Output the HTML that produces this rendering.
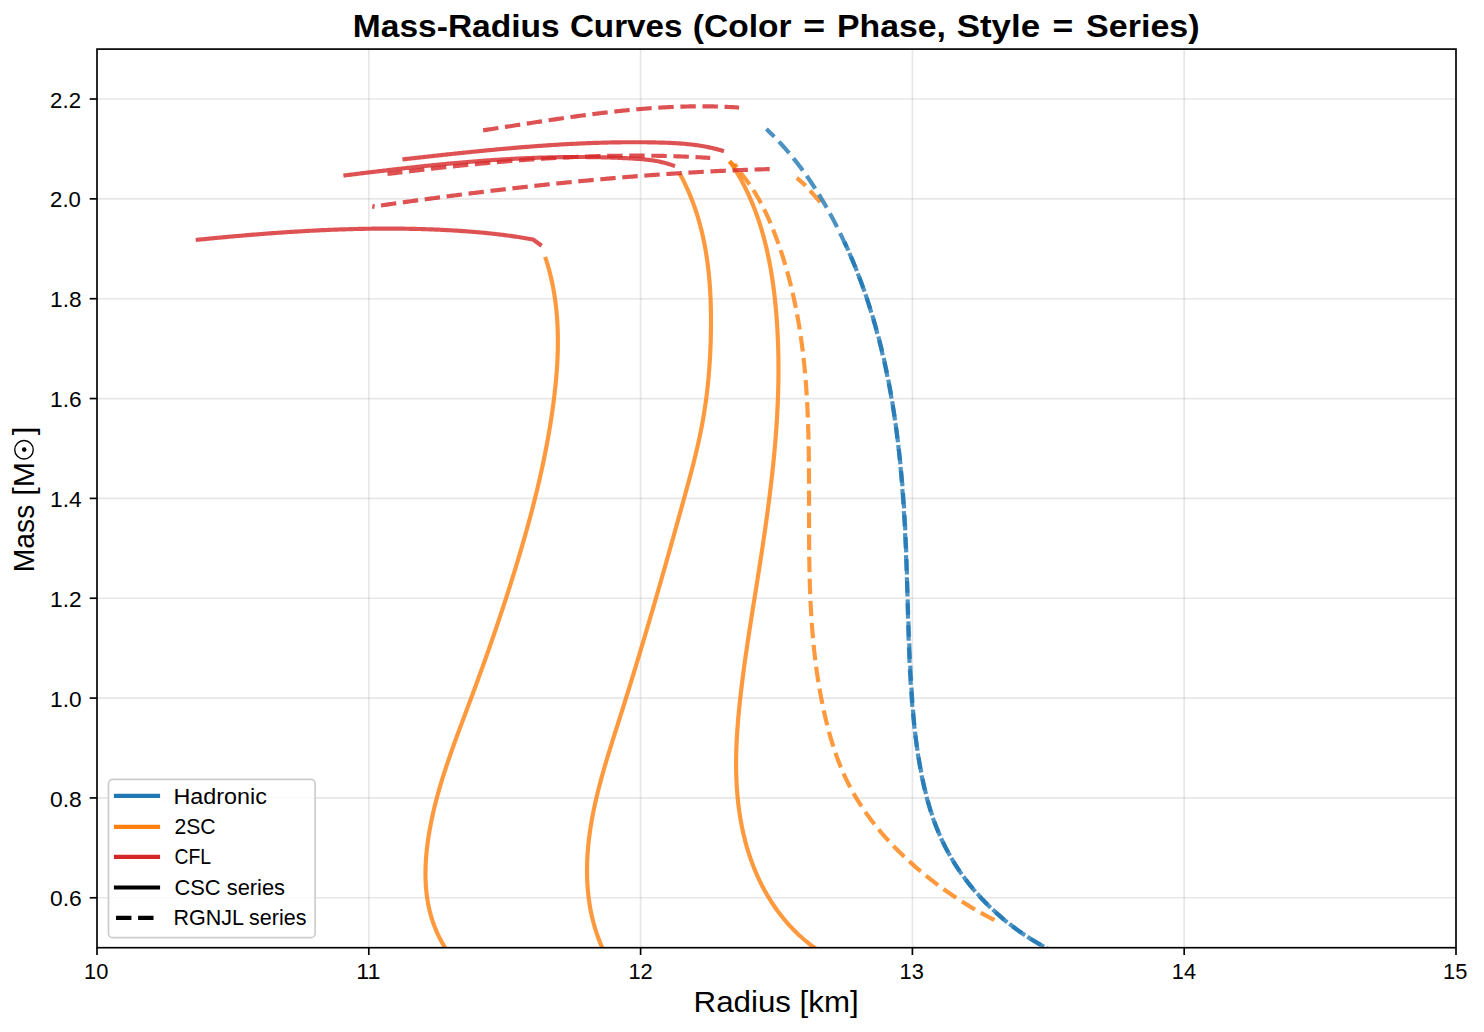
<!DOCTYPE html>
<html><head><meta charset="utf-8"><style>
html,body{margin:0;padding:0;background:#fff;width:1484px;height:1032px;overflow:hidden}
svg{display:block}
text{font-family:"Liberation Sans",sans-serif;fill:#000}
</style></head><body>
<svg width="1484" height="1032" viewBox="0 0 1484 1032">
<rect x="0" y="0" width="1484" height="1032" fill="#fff"/>
<defs><clipPath id="ax"><rect x="97.0" y="49.1" width="1359.0" height="898.6"/></clipPath></defs>
<line x1="368.80" y1="49.1" x2="368.80" y2="947.7" stroke="#b0b0b0" stroke-opacity="0.3" stroke-width="1.67"/>
<line x1="640.60" y1="49.1" x2="640.60" y2="947.7" stroke="#b0b0b0" stroke-opacity="0.3" stroke-width="1.67"/>
<line x1="912.40" y1="49.1" x2="912.40" y2="947.7" stroke="#b0b0b0" stroke-opacity="0.3" stroke-width="1.67"/>
<line x1="1184.20" y1="49.1" x2="1184.20" y2="947.7" stroke="#b0b0b0" stroke-opacity="0.3" stroke-width="1.67"/>
<line x1="97.0" y1="897.78" x2="1456.0" y2="897.78" stroke="#b0b0b0" stroke-opacity="0.3" stroke-width="1.67"/>
<line x1="97.0" y1="797.93" x2="1456.0" y2="797.93" stroke="#b0b0b0" stroke-opacity="0.3" stroke-width="1.67"/>
<line x1="97.0" y1="698.09" x2="1456.0" y2="698.09" stroke="#b0b0b0" stroke-opacity="0.3" stroke-width="1.67"/>
<line x1="97.0" y1="598.24" x2="1456.0" y2="598.24" stroke="#b0b0b0" stroke-opacity="0.3" stroke-width="1.67"/>
<line x1="97.0" y1="498.40" x2="1456.0" y2="498.40" stroke="#b0b0b0" stroke-opacity="0.3" stroke-width="1.67"/>
<line x1="97.0" y1="398.56" x2="1456.0" y2="398.56" stroke="#b0b0b0" stroke-opacity="0.3" stroke-width="1.67"/>
<line x1="97.0" y1="298.71" x2="1456.0" y2="298.71" stroke="#b0b0b0" stroke-opacity="0.3" stroke-width="1.67"/>
<line x1="97.0" y1="198.87" x2="1456.0" y2="198.87" stroke="#b0b0b0" stroke-opacity="0.3" stroke-width="1.67"/>
<line x1="97.0" y1="99.02" x2="1456.0" y2="99.02" stroke="#b0b0b0" stroke-opacity="0.3" stroke-width="1.67"/>
<g clip-path="url(#ax)">
<path d="M545.12,256.87 L545.60,258.33 L546.08,259.78 L546.54,261.24 L546.99,262.70 L547.44,264.16 L547.87,265.63 L548.29,267.09 L548.70,268.55 L549.10,270.02 L549.49,271.48 L549.87,272.95 L550.24,274.42 L550.60,275.89 L550.95,277.36 L551.30,278.83 L551.63,280.30 L551.95,281.78 L552.26,283.25 L552.56,284.73 L552.86,286.20 L553.14,287.68 L553.42,289.16 L553.68,290.64 L553.94,292.12 L554.19,293.60 L554.43,295.08 L554.66,296.56 L554.88,298.05 L555.09,299.53 L555.30,301.02 L555.50,302.50 L555.68,303.99 L555.86,305.47 L556.03,306.96 L556.20,308.45 L556.35,309.94 L556.50,311.43 L556.64,312.92 L556.77,314.41 L556.89,315.90 L557.01,317.39 L557.12,318.88 L557.22,320.37 L557.31,321.87 L557.40,323.36 L557.47,324.86 L557.55,326.35 L557.61,327.84 L557.67,329.34 L557.72,330.84 L557.76,332.33 L557.80,333.83 L557.83,335.32 L557.85,336.82 L557.87,338.32 L557.88,339.82 L557.88,341.31 L557.88,342.81 L557.87,344.31 L557.85,345.81 L557.83,347.31 L557.80,348.81 L557.77,350.31 L557.73,351.81 L557.69,353.30 L557.64,354.80 L557.58,356.30 L557.52,357.80 L557.45,359.30 L557.38,360.80 L557.30,362.30 L557.22,363.80 L557.13,365.30 L557.04,366.80 L556.94,368.30 L556.83,369.80 L556.73,371.30 L556.61,372.80 L556.49,374.30 L556.37,375.79 L556.25,377.29 L556.11,378.79 L555.98,380.29 L555.84,381.79 L555.69,383.28 L555.55,384.78 L555.39,386.28 L555.24,387.78 L555.08,389.27 L554.91,390.77 L554.75,392.26 L554.58,393.76 L554.40,395.26 L554.22,396.75 L554.04,398.24 L553.85,399.74 L553.67,401.23 L553.47,402.72 L553.28,404.22 L553.08,405.71 L552.88,407.20 L552.67,408.69 L552.47,410.18 L552.26,411.67 L552.04,413.16 L551.82,414.65 L551.60,416.14 L551.38,417.63 L551.15,419.12 L550.92,420.60 L550.69,422.09 L550.46,423.58 L550.22,425.06 L549.98,426.55 L549.73,428.03 L549.48,429.52 L549.23,431.00 L548.98,432.49 L548.72,433.97 L548.47,435.45 L548.20,436.93 L547.94,438.41 L547.67,439.90 L547.40,441.38 L547.13,442.86 L546.85,444.34 L546.57,445.82 L546.29,447.29 L546.01,448.77 L545.72,450.25 L545.43,451.73 L545.14,453.21 L544.85,454.68 L544.55,456.16 L544.25,457.63 L543.95,459.11 L543.65,460.58 L543.34,462.06 L543.03,463.53 L542.72,465.00 L542.40,466.48 L542.09,467.95 L541.77,469.42 L541.44,470.89 L541.12,472.36 L540.79,473.83 L540.47,475.30 L540.13,476.77 L539.80,478.24 L539.47,479.70 L539.13,481.17 L538.79,482.64 L538.45,484.11 L538.10,485.57 L537.75,487.04 L537.41,488.50 L537.05,489.97 L536.70,491.43 L536.35,492.89 L535.99,494.36 L535.63,495.82 L535.27,497.28 L534.90,498.74 L534.54,500.20 L534.17,501.66 L533.80,503.12 L533.43,504.58 L533.06,506.04 L532.68,507.50 L532.31,508.96 L531.93,510.41 L531.55,511.87 L531.16,513.33 L530.78,514.78 L530.39,516.24 L530.00,517.69 L529.61,519.15 L529.22,520.60 L528.83,522.05 L528.44,523.50 L528.04,524.96 L527.64,526.41 L527.24,527.86 L526.84,529.31 L526.44,530.76 L526.03,532.21 L525.63,533.66 L525.22,535.10 L524.81,536.55 L524.40,538.00 L523.99,539.44 L523.57,540.89 L523.16,542.34 L522.74,543.78 L522.32,545.22 L521.90,546.67 L521.48,548.11 L521.06,549.55 L520.64,551.00 L520.21,552.44 L519.79,553.88 L519.36,555.32 L518.93,556.76 L518.50,558.20 L518.07,559.64 L517.64,561.07 L517.20,562.51 L516.77,563.95 L516.33,565.39 L515.90,566.82 L515.46,568.26 L515.02,569.69 L514.58,571.13 L514.14,572.56 L513.70,573.99 L513.25,575.42 L512.81,576.86 L512.36,578.29 L511.92,579.72 L511.47,581.15 L511.02,582.58 L510.57,584.01 L510.12,585.44 L509.67,586.87 L509.22,588.29 L508.76,589.72 L508.31,591.15 L507.85,592.58 L507.39,594.00 L506.94,595.43 L506.48,596.85 L506.02,598.28 L505.56,599.70 L505.09,601.13 L504.63,602.55 L504.17,603.97 L503.70,605.40 L503.24,606.82 L502.77,608.24 L502.30,609.66 L501.83,611.09 L501.36,612.51 L500.89,613.93 L500.42,615.35 L499.95,616.77 L499.47,618.19 L499.00,619.61 L498.52,621.03 L498.04,622.45 L497.56,623.87 L497.09,625.28 L496.61,626.70 L496.12,628.12 L495.64,629.54 L495.16,630.96 L494.67,632.37 L494.19,633.79 L493.70,635.21 L493.22,636.62 L492.73,638.04 L492.24,639.46 L491.75,640.87 L491.26,642.29 L490.77,643.70 L490.27,645.12 L489.78,646.54 L489.29,647.95 L488.79,649.37 L488.29,650.78 L487.80,652.20 L487.30,653.61 L486.80,655.03 L486.30,656.44 L485.80,657.85 L485.29,659.27 L484.79,660.68 L484.29,662.10 L483.78,663.51 L483.28,664.93 L482.77,666.34 L482.26,667.75 L481.75,669.17 L481.24,670.58 L480.73,672.00 L480.22,673.41 L479.71,674.82 L479.19,676.24 L478.68,677.65 L478.16,679.07 L477.65,680.48 L477.13,681.89 L476.61,683.31 L476.09,684.72 L475.57,686.14 L475.05,687.55 L474.53,688.97 L474.01,690.38 L473.49,691.79 L472.96,693.21 L472.44,694.62 L471.91,696.04 L471.38,697.45 L470.86,698.87 L470.33,700.28 L469.80,701.70 L469.27,703.12 L468.74,704.53 L468.21,705.95 L467.67,707.36 L467.14,708.78 L466.61,710.20 L466.08,711.61 L465.54,713.03 L465.01,714.45 L464.48,715.87 L463.95,717.28 L463.42,718.70 L462.88,720.12 L462.35,721.54 L461.82,722.96 L461.29,724.38 L460.76,725.80 L460.23,727.22 L459.70,728.64 L459.18,730.06 L458.65,731.48 L458.13,732.90 L457.60,734.33 L457.08,735.75 L456.56,737.17 L456.04,738.60 L455.52,740.02 L455.00,741.44 L454.49,742.87 L453.97,744.30 L453.46,745.72 L452.95,747.15 L452.44,748.58 L451.94,750.00 L451.43,751.43 L450.93,752.86 L450.43,754.29 L449.94,755.72 L449.44,757.15 L448.95,758.58 L448.46,760.01 L447.98,761.45 L447.49,762.88 L447.01,764.32 L446.53,765.75 L446.06,767.19 L445.59,768.62 L445.12,770.06 L444.65,771.50 L444.19,772.93 L443.73,774.37 L443.28,775.81 L442.83,777.25 L442.38,778.70 L441.94,780.14 L441.50,781.58 L441.06,783.03 L440.63,784.47 L440.20,785.92 L439.78,787.36 L439.36,788.81 L438.95,790.26 L438.54,791.71 L438.13,793.16 L437.73,794.61 L437.33,796.06 L436.94,797.51 L436.55,798.97 L436.17,800.42 L435.80,801.88 L435.42,803.34 L435.06,804.79 L434.70,806.25 L434.34,807.71 L433.99,809.17 L433.65,810.64 L433.31,812.10 L432.97,813.56 L432.65,815.03 L432.32,816.50 L432.01,817.96 L431.70,819.43 L431.40,820.90 L431.10,822.37 L430.81,823.84 L430.52,825.32 L430.24,826.79 L429.97,828.27 L429.71,829.75 L429.45,831.22 L429.20,832.70 L428.95,834.18 L428.71,835.67 L428.48,837.15 L428.26,838.63 L428.04,840.12 L427.83,841.61 L427.63,843.09 L427.44,844.58 L427.25,846.07 L427.07,847.56 L426.90,849.06 L426.74,850.55 L426.59,852.04 L426.45,853.53 L426.31,855.03 L426.19,856.52 L426.07,858.01 L425.97,859.51 L425.87,861.00 L425.79,862.49 L425.71,863.99 L425.65,865.48 L425.59,866.97 L425.55,868.47 L425.51,869.96 L425.49,871.45 L425.48,872.94 L425.48,874.43 L425.49,875.92 L425.52,877.41 L425.55,878.89 L425.60,880.38 L425.66,881.86 L425.73,883.35 L425.82,884.83 L425.92,886.31 L426.03,887.79 L426.15,889.26 L426.29,890.74 L426.45,892.21 L426.61,893.69 L426.79,895.16 L426.98,896.62 L427.19,898.09 L427.42,899.55 L427.65,901.01 L427.91,902.47 L428.17,903.93 L428.46,905.38 L428.75,906.83 L429.07,908.28 L429.40,909.72 L429.74,911.16 L430.10,912.60 L430.48,914.04 L430.88,915.47 L431.29,916.90 L431.72,918.33 L432.16,919.75 L432.62,921.17 L433.10,922.58 L433.60,923.99 L434.12,925.40 L434.65,926.80 L435.20,928.20 L435.77,929.60 L436.36,930.99 L436.97,932.38 L437.59,933.76 L438.24,935.14 L438.90,936.51 L439.59,937.88 L440.29,939.24 L441.01,940.60 L441.76,941.96 L442.52,943.31 L443.30,944.65 L444.11,945.99 L444.93,947.33 L445.78,948.66 L446.65,949.98 L447.53,951.30 L448.44,952.61 L449.37,953.92 L450.33,955.22" fill="none" stroke="#ff7f0e" stroke-opacity="0.8" stroke-width="4.17" stroke-linejoin="round" stroke-linecap="butt"/>
<path d="M679.83,173.75 L680.56,175.10 L681.28,176.45 L681.99,177.81 L682.68,179.17 L683.37,180.53 L684.05,181.89 L684.71,183.26 L685.37,184.63 L686.01,186.01 L686.65,187.38 L687.27,188.76 L687.89,190.15 L688.50,191.53 L689.09,192.92 L689.68,194.31 L690.25,195.70 L690.82,197.10 L691.38,198.50 L691.92,199.90 L692.46,201.31 L692.99,202.71 L693.51,204.12 L694.02,205.54 L694.52,206.95 L695.01,208.37 L695.49,209.79 L695.97,211.21 L696.43,212.64 L696.89,214.06 L697.33,215.49 L697.77,216.92 L698.20,218.36 L698.62,219.79 L699.04,221.23 L699.44,222.67 L699.84,224.11 L700.22,225.56 L700.60,227.01 L700.98,228.45 L701.34,229.91 L701.70,231.36 L702.04,232.81 L702.38,234.27 L702.71,235.73 L703.04,237.19 L703.36,238.65 L703.66,240.11 L703.97,241.58 L704.26,243.05 L704.55,244.51 L704.83,245.99 L705.10,247.46 L705.36,248.93 L705.62,250.41 L705.87,251.88 L706.12,253.36 L706.35,254.84 L706.58,256.32 L706.81,257.80 L707.02,259.29 L707.23,260.77 L707.44,262.26 L707.63,263.75 L707.82,265.23 L708.01,266.72 L708.19,268.21 L708.36,269.71 L708.52,271.20 L708.68,272.69 L708.84,274.19 L708.99,275.69 L709.13,277.18 L709.26,278.68 L709.39,280.18 L709.52,281.68 L709.64,283.18 L709.75,284.68 L709.86,286.18 L709.96,287.69 L710.06,289.19 L710.15,290.69 L710.24,292.20 L710.32,293.70 L710.40,295.21 L710.47,296.71 L710.54,298.22 L710.60,299.73 L710.66,301.24 L710.71,302.74 L710.76,304.25 L710.80,305.76 L710.84,307.27 L710.88,308.78 L710.91,310.29 L710.93,311.80 L710.96,313.31 L710.97,314.82 L710.99,316.33 L711.00,317.84 L711.00,319.35 L711.01,320.86 L711.00,322.37 L711.00,323.88 L710.99,325.39 L710.98,326.90 L710.96,328.41 L710.94,329.92 L710.92,331.43 L710.89,332.94 L710.86,334.44 L710.83,335.95 L710.79,337.46 L710.75,338.97 L710.71,340.48 L710.67,341.98 L710.62,343.49 L710.56,344.99 L710.51,346.50 L710.45,348.01 L710.39,349.51 L710.32,351.02 L710.25,352.52 L710.18,354.02 L710.10,355.53 L710.02,357.03 L709.94,358.53 L709.85,360.03 L709.76,361.53 L709.66,363.03 L709.56,364.54 L709.46,366.03 L709.35,367.53 L709.24,369.03 L709.13,370.53 L709.01,372.03 L708.89,373.53 L708.76,375.02 L708.63,376.52 L708.50,378.02 L708.36,379.51 L708.22,381.00 L708.07,382.50 L707.92,383.99 L707.77,385.48 L707.61,386.98 L707.44,388.47 L707.28,389.96 L707.11,391.45 L706.93,392.94 L706.75,394.43 L706.56,395.92 L706.37,397.40 L706.18,398.89 L705.98,400.38 L705.78,401.86 L705.57,403.35 L705.36,404.83 L705.14,406.32 L704.92,407.80 L704.69,409.28 L704.46,410.76 L704.23,412.24 L703.99,413.72 L703.74,415.20 L703.50,416.68 L703.24,418.16 L702.98,419.64 L702.72,421.11 L702.45,422.59 L702.18,424.07 L701.91,425.54 L701.63,427.01 L701.34,428.49 L701.05,429.96 L700.76,431.43 L700.46,432.90 L700.16,434.38 L699.86,435.85 L699.55,437.32 L699.23,438.78 L698.92,440.25 L698.59,441.72 L698.27,443.19 L697.94,444.66 L697.61,446.12 L697.27,447.59 L696.93,449.05 L696.59,450.52 L696.24,451.98 L695.89,453.45 L695.54,454.91 L695.18,456.37 L694.83,457.83 L694.47,459.29 L694.10,460.76 L693.74,462.22 L693.37,463.68 L693.00,465.14 L692.62,466.60 L692.25,468.06 L691.87,469.51 L691.49,470.97 L691.11,472.43 L690.72,473.89 L690.34,475.34 L689.95,476.80 L689.56,478.26 L689.18,479.71 L688.78,481.17 L688.39,482.62 L688.00,484.08 L687.60,485.53 L687.21,486.98 L686.81,488.44 L686.41,489.89 L686.02,491.34 L685.62,492.80 L685.22,494.25 L684.82,495.70 L684.42,497.15 L684.02,498.60 L683.62,500.05 L683.22,501.51 L682.82,502.96 L682.42,504.41 L682.02,505.86 L681.62,507.31 L681.22,508.76 L680.82,510.21 L680.42,511.65 L680.01,513.10 L679.61,514.55 L679.21,516.00 L678.81,517.45 L678.41,518.90 L678.00,520.34 L677.60,521.79 L677.20,523.24 L676.80,524.69 L676.39,526.13 L675.99,527.58 L675.59,529.03 L675.19,530.47 L674.78,531.92 L674.38,533.36 L673.97,534.81 L673.57,536.25 L673.17,537.70 L672.76,539.14 L672.36,540.59 L671.95,542.03 L671.55,543.48 L671.14,544.92 L670.73,546.37 L670.33,547.81 L669.92,549.25 L669.52,550.70 L669.11,552.14 L668.70,553.58 L668.29,555.03 L667.89,556.47 L667.48,557.91 L667.07,559.35 L666.66,560.80 L666.26,562.24 L665.85,563.68 L665.44,565.12 L665.03,566.56 L664.62,568.01 L664.21,569.45 L663.80,570.89 L663.39,572.33 L662.98,573.77 L662.57,575.21 L662.15,576.65 L661.74,578.09 L661.33,579.54 L660.92,580.98 L660.51,582.42 L660.09,583.86 L659.68,585.30 L659.27,586.74 L658.85,588.18 L658.44,589.62 L658.02,591.06 L657.61,592.50 L657.19,593.94 L656.78,595.38 L656.36,596.82 L655.95,598.26 L655.53,599.70 L655.11,601.14 L654.69,602.57 L654.28,604.01 L653.86,605.45 L653.44,606.89 L653.02,608.33 L652.60,609.77 L652.18,611.21 L651.76,612.65 L651.34,614.09 L650.92,615.53 L650.50,616.97 L650.08,618.40 L649.66,619.84 L649.23,621.28 L648.81,622.72 L648.39,624.16 L647.96,625.60 L647.54,627.04 L647.12,628.48 L646.69,629.91 L646.27,631.35 L645.84,632.79 L645.41,634.23 L644.99,635.67 L644.56,637.11 L644.13,638.55 L643.70,639.99 L643.28,641.42 L642.85,642.86 L642.42,644.30 L641.99,645.74 L641.56,647.18 L641.13,648.62 L640.70,650.06 L640.26,651.50 L639.83,652.94 L639.40,654.38 L638.97,655.81 L638.53,657.25 L638.10,658.69 L637.66,660.13 L637.23,661.57 L636.79,663.01 L636.36,664.45 L635.92,665.89 L635.48,667.33 L635.04,668.77 L634.61,670.21 L634.17,671.65 L633.73,673.09 L633.29,674.53 L632.85,675.97 L632.41,677.41 L631.96,678.85 L631.52,680.29 L631.08,681.73 L630.64,683.17 L630.19,684.61 L629.75,686.05 L629.30,687.49 L628.86,688.93 L628.41,690.38 L627.97,691.82 L627.52,693.26 L627.07,694.70 L626.62,696.14 L626.17,697.58 L625.72,699.03 L625.27,700.47 L624.82,701.91 L624.37,703.35 L623.92,704.79 L623.47,706.24 L623.02,707.68 L622.56,709.12 L622.11,710.57 L621.65,712.01 L621.20,713.45 L620.74,714.90 L620.28,716.34 L619.83,717.78 L619.37,719.23 L618.91,720.67 L618.45,722.12 L617.99,723.56 L617.53,725.01 L617.07,726.45 L616.61,727.90 L616.16,729.34 L615.70,730.79 L615.24,732.23 L614.78,733.68 L614.32,735.13 L613.87,736.57 L613.41,738.02 L612.95,739.47 L612.50,740.92 L612.05,742.36 L611.59,743.81 L611.14,745.26 L610.69,746.71 L610.24,748.16 L609.79,749.61 L609.35,751.06 L608.90,752.51 L608.46,753.96 L608.02,755.41 L607.58,756.86 L607.15,758.31 L606.71,759.76 L606.28,761.22 L605.85,762.67 L605.42,764.12 L605.00,765.57 L604.57,767.03 L604.15,768.48 L603.74,769.94 L603.32,771.39 L602.91,772.85 L602.50,774.30 L602.10,775.76 L601.70,777.21 L601.30,778.67 L600.90,780.13 L600.51,781.59 L600.12,783.04 L599.74,784.50 L599.36,785.96 L598.98,787.42 L598.61,788.88 L598.24,790.34 L597.87,791.80 L597.51,793.27 L597.16,794.73 L596.81,796.19 L596.46,797.65 L596.12,799.12 L595.78,800.58 L595.45,802.05 L595.12,803.51 L594.80,804.98 L594.48,806.44 L594.17,807.91 L593.86,809.38 L593.56,810.85 L593.27,812.31 L592.98,813.78 L592.69,815.25 L592.41,816.72 L592.14,818.20 L591.87,819.67 L591.61,821.14 L591.36,822.61 L591.11,824.09 L590.87,825.56 L590.63,827.03 L590.40,828.51 L590.18,829.99 L589.96,831.46 L589.75,832.94 L589.55,834.42 L589.36,835.90 L589.17,837.38 L588.99,838.86 L588.81,840.34 L588.65,841.82 L588.49,843.30 L588.34,844.79 L588.19,846.27 L588.06,847.75 L587.93,849.24 L587.81,850.72 L587.70,852.21 L587.60,853.70 L587.50,855.19 L587.41,856.68 L587.34,858.17 L587.27,859.66 L587.20,861.15 L587.15,862.64 L587.11,864.13 L587.07,865.62 L587.05,867.12 L587.03,868.61 L587.02,870.11 L587.02,871.60 L587.03,873.09 L587.05,874.59 L587.08,876.08 L587.12,877.58 L587.17,879.07 L587.23,880.57 L587.30,882.06 L587.38,883.55 L587.47,885.05 L587.57,886.54 L587.68,888.03 L587.80,889.52 L587.93,891.01 L588.08,892.50 L588.23,893.99 L588.39,895.48 L588.57,896.97 L588.75,898.46 L588.95,899.94 L589.16,901.43 L589.38,902.91 L589.61,904.39 L589.85,905.87 L590.10,907.35 L590.37,908.83 L590.65,910.31 L590.93,911.78 L591.24,913.25 L591.55,914.73 L591.88,916.20 L592.21,917.66 L592.56,919.13 L592.93,920.59 L593.30,922.05 L593.69,923.51 L594.09,924.97 L594.51,926.43 L594.93,927.88 L595.37,929.33 L595.83,930.78 L596.29,932.22 L596.77,933.66 L597.27,935.10 L597.77,936.54 L598.29,937.97 L598.83,939.41 L599.38,940.83 L599.94,942.26 L600.52,943.68 L601.11,945.10 L601.71,946.52 L602.33,947.93 L602.96,949.34 L603.61,950.74 L604.27,952.15 L604.95,953.55 L605.64,954.94" fill="none" stroke="#ff7f0e" stroke-opacity="0.8" stroke-width="4.17" stroke-linejoin="round" stroke-linecap="butt"/>
<path d="M729.71,161.28 L730.57,162.55 L731.42,163.81 L732.26,165.08 L733.09,166.36 L733.91,167.64 L734.72,168.93 L735.52,170.22 L736.31,171.51 L737.09,172.81 L737.86,174.11 L738.62,175.42 L739.37,176.73 L740.11,178.04 L740.84,179.36 L741.57,180.69 L742.28,182.01 L742.98,183.34 L743.68,184.68 L744.36,186.02 L745.04,187.36 L745.71,188.71 L746.37,190.06 L747.02,191.41 L747.66,192.77 L748.29,194.13 L748.91,195.50 L749.53,196.87 L750.13,198.24 L750.73,199.61 L751.32,200.99 L751.90,202.37 L752.47,203.76 L753.04,205.14 L753.59,206.54 L754.14,207.93 L754.68,209.33 L755.21,210.73 L755.74,212.13 L756.25,213.54 L756.76,214.95 L757.26,216.36 L757.75,217.77 L758.24,219.19 L758.72,220.61 L759.19,222.03 L759.65,223.46 L760.10,224.89 L760.55,226.32 L760.99,227.75 L761.43,229.19 L761.85,230.62 L762.27,232.06 L762.69,233.51 L763.09,234.95 L763.49,236.40 L763.88,237.85 L764.27,239.30 L764.64,240.75 L765.02,242.21 L765.38,243.67 L765.74,245.13 L766.09,246.59 L766.44,248.05 L766.78,249.52 L767.11,250.98 L767.44,252.45 L767.76,253.92 L768.07,255.39 L768.38,256.87 L768.69,258.34 L768.98,259.82 L769.27,261.30 L769.56,262.78 L769.84,264.26 L770.11,265.74 L770.38,267.22 L770.64,268.71 L770.90,270.19 L771.15,271.68 L771.40,273.17 L771.64,274.66 L771.88,276.15 L772.11,277.64 L772.34,279.13 L772.56,280.63 L772.77,282.12 L772.98,283.62 L773.19,285.11 L773.39,286.61 L773.59,288.11 L773.78,289.61 L773.97,291.10 L774.15,292.60 L774.33,294.10 L774.51,295.60 L774.68,297.10 L774.84,298.61 L775.00,300.11 L775.16,301.61 L775.31,303.11 L775.46,304.61 L775.61,306.11 L775.75,307.62 L775.89,309.12 L776.02,310.62 L776.15,312.12 L776.27,313.63 L776.40,315.13 L776.52,316.63 L776.63,318.13 L776.74,319.64 L776.85,321.14 L776.95,322.64 L777.05,324.15 L777.15,325.65 L777.24,327.15 L777.33,328.65 L777.42,330.16 L777.50,331.66 L777.58,333.16 L777.66,334.67 L777.73,336.17 L777.80,337.67 L777.86,339.17 L777.92,340.68 L777.98,342.18 L778.04,343.68 L778.09,345.19 L778.14,346.69 L778.18,348.19 L778.23,349.69 L778.26,351.20 L778.30,352.70 L778.33,354.20 L778.36,355.71 L778.39,357.21 L778.41,358.71 L778.43,360.21 L778.44,361.72 L778.46,363.22 L778.47,364.72 L778.47,366.23 L778.48,367.73 L778.48,369.23 L778.48,370.73 L778.47,372.24 L778.46,373.74 L778.45,375.24 L778.44,376.75 L778.42,378.25 L778.40,379.75 L778.38,381.25 L778.35,382.76 L778.32,384.26 L778.29,385.76 L778.26,387.26 L778.22,388.77 L778.18,390.27 L778.14,391.77 L778.10,393.27 L778.05,394.77 L778.00,396.28 L777.94,397.78 L777.89,399.28 L777.83,400.78 L777.77,402.28 L777.71,403.79 L777.64,405.29 L777.57,406.79 L777.50,408.29 L777.43,409.79 L777.35,411.29 L777.27,412.80 L777.19,414.30 L777.11,415.80 L777.02,417.30 L776.93,418.80 L776.84,420.30 L776.75,421.80 L776.65,423.31 L776.55,424.81 L776.45,426.31 L776.35,427.81 L776.25,429.31 L776.14,430.81 L776.03,432.31 L775.92,433.81 L775.80,435.31 L775.69,436.81 L775.57,438.31 L775.45,439.81 L775.33,441.31 L775.20,442.81 L775.08,444.31 L774.95,445.81 L774.82,447.31 L774.68,448.81 L774.55,450.31 L774.41,451.81 L774.28,453.31 L774.14,454.81 L773.99,456.31 L773.85,457.81 L773.70,459.31 L773.55,460.80 L773.40,462.30 L773.25,463.80 L773.10,465.30 L772.94,466.80 L772.79,468.30 L772.63,469.79 L772.47,471.29 L772.31,472.79 L772.14,474.29 L771.98,475.79 L771.81,477.28 L771.64,478.78 L771.47,480.28 L771.30,481.78 L771.12,483.27 L770.95,484.77 L770.77,486.27 L770.59,487.76 L770.41,489.26 L770.23,490.75 L770.05,492.25 L769.87,493.75 L769.68,495.24 L769.49,496.74 L769.31,498.23 L769.12,499.73 L768.93,501.23 L768.73,502.72 L768.54,504.22 L768.34,505.71 L768.15,507.20 L767.95,508.70 L767.75,510.19 L767.55,511.69 L767.35,513.18 L767.15,514.68 L766.95,516.17 L766.74,517.66 L766.54,519.16 L766.33,520.65 L766.12,522.14 L765.91,523.64 L765.70,525.13 L765.49,526.62 L765.28,528.11 L765.07,529.61 L764.85,531.10 L764.64,532.59 L764.42,534.08 L764.21,535.57 L763.99,537.06 L763.77,538.56 L763.55,540.05 L763.33,541.54 L763.11,543.03 L762.89,544.52 L762.67,546.01 L762.44,547.50 L762.22,548.99 L761.99,550.48 L761.77,551.97 L761.54,553.46 L761.32,554.95 L761.09,556.43 L760.86,557.92 L760.63,559.41 L760.40,560.90 L760.17,562.39 L759.94,563.88 L759.71,565.36 L759.48,566.85 L759.25,568.34 L759.02,569.83 L758.79,571.31 L758.55,572.80 L758.32,574.28 L758.09,575.77 L757.85,577.26 L757.62,578.74 L757.38,580.23 L757.15,581.71 L756.91,583.20 L756.68,584.68 L756.44,586.17 L756.21,587.65 L755.97,589.14 L755.73,590.62 L755.50,592.10 L755.26,593.59 L755.02,595.07 L754.79,596.56 L754.55,598.04 L754.32,599.52 L754.08,601.01 L753.84,602.49 L753.61,603.97 L753.37,605.45 L753.14,606.94 L752.90,608.42 L752.66,609.90 L752.43,611.39 L752.20,612.87 L751.96,614.35 L751.73,615.84 L751.49,617.32 L751.26,618.80 L751.03,620.28 L750.80,621.77 L750.56,623.25 L750.33,624.73 L750.10,626.22 L749.87,627.70 L749.64,629.18 L749.42,630.67 L749.19,632.15 L748.96,633.63 L748.74,635.12 L748.51,636.60 L748.29,638.09 L748.06,639.57 L747.84,641.06 L747.62,642.54 L747.40,644.03 L747.18,645.51 L746.96,647.00 L746.74,648.48 L746.52,649.97 L746.31,651.45 L746.09,652.94 L745.88,654.43 L745.66,655.91 L745.45,657.40 L745.24,658.89 L745.03,660.38 L744.83,661.87 L744.62,663.35 L744.42,664.84 L744.21,666.33 L744.01,667.82 L743.81,669.31 L743.61,670.80 L743.41,672.29 L743.22,673.79 L743.02,675.28 L742.83,676.77 L742.64,678.26 L742.45,679.75 L742.26,681.25 L742.08,682.74 L741.89,684.24 L741.71,685.73 L741.53,687.23 L741.35,688.72 L741.17,690.22 L741.00,691.72 L740.82,693.21 L740.65,694.71 L740.48,696.21 L740.31,697.71 L740.15,699.21 L739.98,700.71 L739.82,702.21 L739.67,703.71 L739.51,705.21 L739.35,706.72 L739.20,708.22 L739.05,709.72 L738.91,711.23 L738.77,712.73 L738.63,714.23 L738.49,715.74 L738.35,717.24 L738.22,718.75 L738.09,720.25 L737.97,721.76 L737.85,723.27 L737.73,724.77 L737.62,726.28 L737.50,727.79 L737.40,729.29 L737.29,730.80 L737.19,732.31 L737.10,733.82 L737.00,735.32 L736.92,736.83 L736.83,738.34 L736.75,739.85 L736.68,741.36 L736.61,742.86 L736.54,744.37 L736.48,745.88 L736.42,747.39 L736.37,748.90 L736.32,750.41 L736.27,751.91 L736.24,753.42 L736.20,754.93 L736.17,756.44 L736.15,757.94 L736.13,759.45 L736.12,760.96 L736.11,762.47 L736.11,763.97 L736.11,765.48 L736.12,766.99 L736.14,768.49 L736.16,770.00 L736.18,771.50 L736.21,773.01 L736.25,774.51 L736.30,776.02 L736.35,777.52 L736.40,779.03 L736.46,780.53 L736.53,782.03 L736.61,783.54 L736.69,785.04 L736.78,786.54 L736.87,788.04 L736.98,789.54 L737.08,791.04 L737.20,792.54 L737.32,794.04 L737.45,795.54 L737.59,797.04 L737.73,798.54 L737.89,800.03 L738.04,801.53 L738.21,803.02 L738.38,804.52 L738.56,806.01 L738.75,807.51 L738.95,809.00 L739.15,810.49 L739.37,811.98 L739.59,813.47 L739.81,814.95 L740.05,816.44 L740.29,817.92 L740.54,819.41 L740.80,820.89 L741.07,822.37 L741.35,823.85 L741.63,825.32 L741.92,826.80 L742.22,828.27 L742.53,829.74 L742.85,831.21 L743.18,832.68 L743.51,834.14 L743.85,835.61 L744.20,837.07 L744.57,838.53 L744.93,839.98 L745.31,841.43 L745.70,842.88 L746.10,844.33 L746.50,845.78 L746.91,847.22 L747.34,848.66 L747.77,850.10 L748.21,851.53 L748.66,852.96 L749.12,854.39 L749.59,855.82 L750.07,857.24 L750.56,858.65 L751.05,860.07 L751.56,861.48 L752.08,862.89 L752.60,864.29 L753.14,865.69 L753.68,867.09 L754.24,868.48 L754.80,869.87 L755.38,871.26 L755.96,872.64 L756.55,874.01 L757.16,875.38 L757.77,876.75 L758.40,878.11 L759.03,879.47 L759.67,880.83 L760.32,882.17 L760.99,883.52 L761.66,884.86 L762.34,886.19 L763.04,887.52 L763.74,888.84 L764.45,890.16 L765.17,891.47 L765.91,892.77 L766.65,894.07 L767.41,895.37 L768.17,896.66 L768.94,897.94 L769.73,899.22 L770.52,900.49 L771.33,901.75 L772.14,903.01 L772.97,904.26 L773.80,905.50 L774.65,906.74 L775.51,907.97 L776.37,909.19 L777.25,910.41 L778.14,911.62 L779.04,912.82 L779.94,914.02 L780.86,915.21 L781.79,916.39 L782.73,917.56 L783.68,918.73 L784.64,919.88 L785.61,921.03 L786.60,922.17 L787.59,923.31 L788.59,924.43 L789.60,925.55 L790.63,926.66 L791.66,927.76 L792.71,928.85 L793.76,929.93 L794.83,931.00 L795.90,932.07 L796.99,933.13 L798.09,934.17 L799.20,935.21 L800.32,936.24 L801.45,937.26 L802.59,938.27 L803.74,939.27 L804.90,940.26 L806.07,941.24 L807.25,942.21 L808.45,943.17 L809.65,944.12 L810.87,945.06 L812.09,945.99 L813.33,946.90 L814.58,947.81 L815.84,948.71 L817.10,949.60 L818.38,950.48 L819.68,951.34 L820.98,952.20 L822.29,953.04" fill="none" stroke="#ff7f0e" stroke-opacity="0.8" stroke-width="4.17" stroke-linejoin="round" stroke-linecap="butt"/>
<path d="M195.73,239.95 L197.23,239.80 L198.72,239.65 L200.22,239.50 L201.71,239.35 L203.21,239.20 L204.71,239.06 L206.21,238.91 L207.70,238.76 L209.20,238.62 L210.70,238.47 L212.20,238.33 L213.70,238.18 L215.20,238.04 L216.70,237.90 L218.20,237.76 L219.70,237.61 L221.20,237.47 L222.70,237.33 L224.20,237.19 L225.70,237.06 L227.20,236.92 L228.70,236.78 L230.20,236.65 L231.71,236.51 L233.21,236.38 L234.71,236.24 L236.21,236.11 L237.72,235.98 L239.22,235.85 L240.72,235.72 L242.23,235.59 L243.73,235.46 L245.24,235.33 L246.74,235.20 L248.24,235.08 L249.75,234.95 L251.25,234.83 L252.76,234.70 L254.27,234.58 L255.77,234.46 L257.28,234.34 L258.78,234.22 L260.29,234.10 L261.80,233.98 L263.30,233.87 L264.81,233.75 L266.32,233.64 L267.82,233.52 L269.33,233.41 L270.84,233.30 L272.35,233.19 L273.85,233.08 L275.36,232.97 L276.87,232.86 L278.38,232.75 L279.89,232.65 L281.39,232.55 L282.90,232.44 L284.41,232.34 L285.92,232.24 L287.43,232.14 L288.94,232.04 L290.45,231.94 L291.96,231.85 L293.47,231.75 L294.98,231.66 L296.49,231.57 L298.00,231.48 L299.51,231.39 L301.02,231.30 L302.53,231.21 L304.04,231.12 L305.55,231.04 L307.06,230.95 L308.57,230.87 L310.08,230.79 L311.59,230.71 L313.10,230.63 L314.62,230.55 L316.13,230.48 L317.64,230.40 L319.15,230.33 L320.66,230.26 L322.17,230.19 L323.68,230.12 L325.20,230.05 L326.71,229.98 L328.22,229.92 L329.73,229.86 L331.24,229.79 L332.76,229.73 L334.27,229.67 L335.78,229.62 L337.29,229.56 L338.80,229.51 L340.32,229.45 L341.83,229.40 L343.34,229.35 L344.85,229.30 L346.37,229.26 L347.88,229.21 L349.39,229.17 L350.90,229.12 L352.42,229.08 L353.93,229.04 L355.44,229.01 L356.95,228.97 L358.47,228.93 L359.98,228.90 L361.49,228.87 L363.00,228.84 L364.52,228.81 L366.03,228.79 L367.54,228.76 L369.05,228.74 L370.57,228.72 L372.08,228.70 L373.59,228.68 L375.10,228.67 L376.62,228.65 L378.13,228.64 L379.64,228.63 L381.15,228.62 L382.66,228.61 L384.18,228.61 L385.69,228.60 L387.20,228.60 L388.71,228.60 L390.22,228.60 L391.74,228.61 L393.25,228.61 L394.76,228.62 L396.27,228.63 L397.78,228.64 L399.29,228.65 L400.81,228.67 L402.32,228.69 L403.83,228.70 L405.34,228.73 L406.85,228.75 L408.36,228.77 L409.87,228.80 L411.38,228.83 L412.89,228.86 L414.40,228.89 L415.92,228.93 L417.43,228.96 L418.94,229.00 L420.45,229.04 L421.96,229.08 L423.47,229.13 L424.98,229.18 L426.49,229.22 L428.00,229.27 L429.50,229.33 L431.01,229.38 L432.52,229.44 L434.03,229.50 L435.54,229.56 L437.05,229.62 L438.56,229.69 L440.07,229.76 L441.58,229.83 L443.08,229.90 L444.59,229.97 L446.10,230.05 L447.61,230.13 L449.11,230.21 L450.62,230.29 L452.13,230.38 L453.64,230.47 L455.14,230.56 L456.65,230.65 L458.16,230.75 L459.66,230.84 L461.17,230.94 L462.67,231.05 L464.18,231.15 L465.68,231.26 L467.19,231.37 L468.69,231.48 L470.20,231.60 L471.70,231.72 L473.21,231.84 L474.71,231.96 L476.21,232.09 L477.72,232.22 L479.22,232.36 L480.72,232.49 L482.22,232.63 L483.72,232.78 L485.23,232.92 L486.73,233.07 L488.23,233.22 L489.73,233.38 L491.23,233.54 L492.73,233.70 L494.23,233.87 L495.72,234.04 L497.22,234.21 L498.72,234.39 L500.22,234.57 L501.71,234.75 L503.21,234.94 L504.71,235.13 L506.20,235.32 L507.70,235.52 L509.19,235.73 L510.69,235.93 L512.18,236.14 L513.67,236.36 L515.17,236.58 L516.66,236.80 L518.15,237.03 L519.64,237.26 L521.13,237.49 L522.62,237.73 L524.11,237.98 L525.60,238.22 L527.09,238.48 L528.58,238.73 L530.07,238.99 L531.55,239.26 L533.04,239.53 L541.70,245.70" fill="none" stroke="#d62728" stroke-opacity="0.8" stroke-width="4.17" stroke-linejoin="round" stroke-linecap="butt"/>
<path d="M343.42,175.60 L344.91,175.41 L346.40,175.23 L347.89,175.04 L349.39,174.85 L350.88,174.66 L352.37,174.47 L353.87,174.29 L355.36,174.10 L356.86,173.91 L358.35,173.73 L359.84,173.54 L361.34,173.35 L362.83,173.17 L364.33,172.98 L365.82,172.80 L367.32,172.62 L368.82,172.43 L370.31,172.25 L371.81,172.07 L373.30,171.89 L374.80,171.71 L376.30,171.52 L377.79,171.34 L379.29,171.16 L380.79,170.99 L382.28,170.81 L383.78,170.63 L385.28,170.45 L386.78,170.27 L388.27,170.10 L389.77,169.92 L391.27,169.75 L392.77,169.57 L394.27,169.40 L395.77,169.23 L397.27,169.06 L398.76,168.88 L400.26,168.71 L401.76,168.54 L403.26,168.37 L404.76,168.21 L406.26,168.04 L407.76,167.87 L409.26,167.70 L410.76,167.54 L412.26,167.37 L413.76,167.21 L415.26,167.05 L416.77,166.89 L418.27,166.72 L419.77,166.56 L421.27,166.40 L422.77,166.25 L424.27,166.09 L425.77,165.93 L427.28,165.78 L428.78,165.62 L430.28,165.47 L431.78,165.31 L433.28,165.16 L434.79,165.01 L436.29,164.86 L437.79,164.71 L439.29,164.56 L440.80,164.42 L442.30,164.27 L443.80,164.13 L445.31,163.98 L446.81,163.84 L448.31,163.70 L449.82,163.56 L451.32,163.42 L452.83,163.28 L454.33,163.14 L455.83,163.01 L457.34,162.87 L458.84,162.74 L460.35,162.61 L461.85,162.48 L463.36,162.35 L464.86,162.22 L466.37,162.09 L467.87,161.97 L469.38,161.84 L470.88,161.72 L472.39,161.60 L473.89,161.48 L475.40,161.36 L476.90,161.24 L478.41,161.12 L479.91,161.01 L481.42,160.89 L482.93,160.78 L484.43,160.67 L485.94,160.56 L487.44,160.45 L488.95,160.34 L490.46,160.24 L491.96,160.13 L493.47,160.03 L494.98,159.93 L496.48,159.83 L497.99,159.73 L499.50,159.63 L501.00,159.54 L502.51,159.45 L504.02,159.35 L505.52,159.26 L507.03,159.18 L508.54,159.09 L510.04,159.00 L511.55,158.92 L513.06,158.84 L514.57,158.76 L516.07,158.68 L517.58,158.60 L519.09,158.52 L520.60,158.45 L522.10,158.38 L523.61,158.31 L525.12,158.24 L526.63,158.17 L528.13,158.11 L529.64,158.04 L531.15,157.98 L532.66,157.92 L534.17,157.86 L535.67,157.81 L537.18,157.75 L538.69,157.70 L540.20,157.65 L541.71,157.60 L543.21,157.55 L544.72,157.51 L546.23,157.46 L547.74,157.42 L549.25,157.38 L550.75,157.34 L552.26,157.31 L553.77,157.27 L555.28,157.24 L556.79,157.21 L558.30,157.19 L559.80,157.16 L561.31,157.14 L562.82,157.11 L564.33,157.09 L565.84,157.08 L567.35,157.06 L568.85,157.05 L570.36,157.04 L571.87,157.03 L573.38,157.02 L574.89,157.02 L576.40,157.01 L577.91,157.01 L579.41,157.01 L580.92,157.02 L582.43,157.02 L583.94,157.03 L585.45,157.04 L586.96,157.05 L588.46,157.07 L589.97,157.09 L591.48,157.11 L592.99,157.13 L594.50,157.15 L596.01,157.18 L597.51,157.21 L599.02,157.24 L600.53,157.27 L602.04,157.30 L603.55,157.34 L605.06,157.38 L606.56,157.43 L608.07,157.47 L609.58,157.52 L611.09,157.57 L612.60,157.62 L614.10,157.67 L615.61,157.73 L617.12,157.79 L618.63,157.85 L620.14,157.92 L621.64,157.99 L623.15,158.06 L624.66,158.13 L626.17,158.20 L627.67,158.28 L629.18,158.36 L630.69,158.44 L632.20,158.53 L633.70,158.62 L635.21,158.71 L636.72,158.81 L638.22,158.92 L639.72,159.03 L641.23,159.15 L642.73,159.28 L644.23,159.42 L645.72,159.57 L647.22,159.74 L648.71,159.91 L650.20,160.10 L651.69,160.30 L653.18,160.52 L654.66,160.76 L656.14,161.01 L657.61,161.28 L659.08,161.56 L660.55,161.87 L662.02,162.20 L663.48,162.54 L664.93,162.91 L666.38,163.31 L667.83,163.72 L669.27,164.16 L670.70,164.63 L672.13,165.12 L673.56,165.65 L674.98,166.19" fill="none" stroke="#d62728" stroke-opacity="0.8" stroke-width="4.17" stroke-linejoin="round" stroke-linecap="butt"/>
<path d="M402.42,159.40 L403.91,159.23 L405.41,159.07 L406.91,158.90 L408.41,158.73 L409.90,158.56 L411.40,158.39 L412.90,158.23 L414.40,158.06 L415.90,157.89 L417.40,157.72 L418.89,157.56 L420.39,157.39 L421.89,157.22 L423.39,157.06 L424.89,156.89 L426.39,156.72 L427.89,156.56 L429.39,156.39 L430.89,156.23 L432.39,156.06 L433.89,155.90 L435.39,155.73 L436.89,155.57 L438.39,155.40 L439.89,155.24 L441.39,155.08 L442.89,154.91 L444.39,154.75 L445.89,154.59 L447.39,154.43 L448.89,154.27 L450.39,154.11 L451.89,153.95 L453.40,153.79 L454.90,153.63 L456.40,153.47 L457.90,153.31 L459.40,153.15 L460.90,153.00 L462.41,152.84 L463.91,152.68 L465.41,152.53 L466.91,152.37 L468.42,152.22 L469.92,152.06 L471.42,151.91 L472.92,151.76 L474.43,151.61 L475.93,151.46 L477.43,151.31 L478.94,151.16 L480.44,151.01 L481.94,150.86 L483.45,150.71 L484.95,150.57 L486.45,150.42 L487.96,150.28 L489.46,150.13 L490.96,149.99 L492.47,149.85 L493.97,149.70 L495.48,149.56 L496.98,149.42 L498.49,149.28 L499.99,149.15 L501.50,149.01 L503.00,148.87 L504.50,148.74 L506.01,148.60 L507.51,148.47 L509.02,148.34 L510.53,148.21 L512.03,148.08 L513.54,147.95 L515.04,147.82 L516.55,147.69 L518.05,147.57 L519.56,147.44 L521.06,147.32 L522.57,147.20 L524.08,147.07 L525.58,146.95 L527.09,146.83 L528.59,146.72 L530.10,146.60 L531.61,146.48 L533.11,146.37 L534.62,146.26 L536.13,146.14 L537.63,146.03 L539.14,145.92 L540.65,145.82 L542.15,145.71 L543.66,145.60 L545.17,145.50 L546.68,145.40 L548.18,145.30 L549.69,145.20 L551.20,145.10 L552.71,145.00 L554.21,144.90 L555.72,144.81 L557.23,144.72 L558.74,144.62 L560.25,144.53 L561.75,144.45 L563.26,144.36 L564.77,144.27 L566.28,144.19 L567.79,144.11 L569.29,144.03 L570.80,143.95 L572.31,143.87 L573.82,143.79 L575.33,143.72 L576.84,143.65 L578.35,143.57 L579.86,143.50 L581.36,143.44 L582.87,143.37 L584.38,143.31 L585.89,143.24 L587.40,143.18 L588.91,143.12 L590.42,143.06 L591.93,143.01 L593.44,142.95 L594.95,142.90 L596.46,142.85 L597.97,142.80 L599.48,142.76 L600.99,142.71 L602.50,142.67 L604.01,142.63 L605.52,142.59 L607.03,142.55 L608.54,142.51 L610.05,142.48 L611.56,142.45 L613.07,142.42 L614.58,142.39 L616.09,142.37 L617.60,142.34 L619.11,142.32 L620.62,142.30 L622.13,142.28 L623.64,142.27 L625.15,142.25 L626.66,142.24 L628.17,142.23 L629.68,142.23 L631.20,142.22 L632.71,142.22 L634.22,142.22 L635.73,142.22 L637.24,142.22 L638.75,142.23 L640.26,142.24 L641.77,142.25 L643.29,142.26 L644.80,142.27 L646.31,142.29 L647.82,142.31 L649.33,142.33 L650.84,142.36 L652.35,142.38 L653.87,142.41 L655.38,142.44 L656.89,142.48 L658.40,142.51 L659.91,142.55 L661.42,142.59 L662.94,142.64 L664.45,142.68 L665.96,142.74 L667.47,142.79 L668.98,142.85 L670.49,142.92 L672.00,142.99 L673.51,143.07 L675.01,143.15 L676.52,143.24 L678.03,143.34 L679.53,143.44 L681.04,143.55 L682.54,143.66 L684.04,143.79 L685.54,143.92 L687.04,144.06 L688.54,144.21 L690.04,144.37 L691.53,144.54 L693.03,144.72 L694.52,144.90 L696.01,145.10 L697.50,145.31 L698.99,145.53 L700.47,145.76 L701.95,146.00 L703.43,146.26 L704.91,146.53 L706.39,146.80 L707.87,147.10 L709.34,147.40 L710.81,147.72 L712.27,148.05 L713.74,148.40 L715.20,148.76 L716.66,149.14 L718.12,149.53 L719.57,149.94 L721.02,150.36 L722.47,150.80 L723.92,151.25" fill="none" stroke="#d62728" stroke-opacity="0.8" stroke-width="4.17" stroke-linejoin="round" stroke-linecap="butt"/>
<path d="M729.54,161.37 L730.66,162.42 L731.77,163.48 L732.86,164.55 L733.94,165.64 L735.00,166.73 L736.05,167.83 L737.09,168.94 L738.11,170.06 L739.12,171.19 L740.11,172.33 L741.09,173.47 L742.06,174.63 L743.01,175.79 L743.95,176.96 L744.88,178.14 L745.80,179.33 L746.70,180.53 L747.60,181.73 L748.48,182.95 L749.34,184.17 L750.20,185.39 L751.05,186.63 L751.88,187.87 L752.70,189.12 L753.51,190.37 L754.31,191.63 L755.10,192.90 L755.88,194.18 L756.65,195.46 L757.41,196.75 L758.16,198.04 L758.89,199.34 L759.62,200.65 L760.34,201.96 L761.05,203.27 L761.75,204.59 L762.44,205.92 L763.12,207.25 L763.80,208.59 L764.46,209.93 L765.12,211.28 L765.76,212.63 L766.40,213.98 L767.03,215.34 L767.66,216.70 L768.27,218.07 L768.88,219.44 L769.48,220.82 L770.08,222.19 L770.66,223.57 L771.24,224.96 L771.82,226.35 L772.38,227.74 L772.94,229.13 L773.50,230.53 L774.05,231.92 L774.59,233.33 L775.12,234.73 L775.66,236.13 L776.18,237.54 L776.70,238.95 L777.22,240.36 L777.73,241.77 L778.23,243.19 L778.73,244.60 L779.22,246.02 L779.71,247.44 L780.20,248.86 L780.68,250.28 L781.15,251.71 L781.62,253.13 L782.08,254.56 L782.54,255.99 L783.00,257.42 L783.45,258.85 L783.89,260.29 L784.33,261.72 L784.76,263.16 L785.19,264.60 L785.62,266.04 L786.04,267.48 L786.45,268.92 L786.86,270.37 L787.27,271.81 L787.67,273.26 L788.07,274.71 L788.46,276.16 L788.84,277.61 L789.23,279.06 L789.60,280.51 L789.98,281.97 L790.35,283.43 L790.71,284.88 L791.07,286.34 L791.42,287.80 L791.78,289.26 L792.12,290.72 L792.46,292.19 L792.80,293.65 L793.13,295.12 L793.46,296.58 L793.79,298.05 L794.11,299.52 L794.42,300.99 L794.73,302.46 L795.04,303.93 L795.34,305.40 L795.64,306.88 L795.94,308.35 L796.23,309.83 L796.51,311.30 L796.80,312.78 L797.07,314.26 L797.35,315.74 L797.62,317.22 L797.88,318.70 L798.15,320.18 L798.40,321.66 L798.66,323.14 L798.91,324.62 L799.16,326.11 L799.40,327.59 L799.64,329.08 L799.87,330.56 L800.10,332.05 L800.33,333.54 L800.55,335.03 L800.77,336.52 L800.99,338.00 L801.20,339.49 L801.41,340.98 L801.61,342.47 L801.82,343.97 L802.01,345.46 L802.21,346.95 L802.40,348.44 L802.58,349.93 L802.77,351.43 L802.95,352.92 L803.12,354.41 L803.30,355.91 L803.47,357.40 L803.63,358.90 L803.80,360.39 L803.96,361.89 L804.11,363.38 L804.27,364.88 L804.42,366.38 L804.56,367.87 L804.71,369.37 L804.85,370.87 L804.98,372.37 L805.12,373.86 L805.25,375.36 L805.38,376.86 L805.50,378.36 L805.62,379.86 L805.74,381.36 L805.86,382.86 L805.97,384.35 L806.09,385.85 L806.19,387.35 L806.30,388.86 L806.40,390.36 L806.50,391.86 L806.60,393.36 L806.70,394.86 L806.79,396.36 L806.88,397.86 L806.97,399.36 L807.05,400.87 L807.13,402.37 L807.22,403.87 L807.29,405.37 L807.37,406.88 L807.44,408.38 L807.51,409.88 L807.58,411.39 L807.65,412.89 L807.72,414.39 L807.78,415.90 L807.84,417.40 L807.90,418.91 L807.95,420.41 L808.01,421.92 L808.06,423.42 L808.11,424.93 L808.16,426.43 L808.21,427.94 L808.26,429.44 L808.30,430.95 L808.34,432.45 L808.38,433.96 L808.42,435.47 L808.46,436.97 L808.49,438.48 L808.53,439.99 L808.56,441.49 L808.59,443.00 L808.62,444.51 L808.65,446.01 L808.68,447.52 L808.70,449.03 L808.73,450.53 L808.75,452.04 L808.77,453.55 L808.79,455.06 L808.81,456.56 L808.83,458.07 L808.85,459.58 L808.86,461.09 L808.88,462.59 L808.89,464.10 L808.91,465.61 L808.92,467.12 L808.93,468.63 L808.94,470.13 L808.95,471.64 L808.96,473.15 L808.97,474.66 L808.98,476.17 L808.98,477.68 L808.99,479.18 L809.00,480.69 L809.00,482.20 L809.01,483.71 L809.01,485.22 L809.01,486.73 L809.02,488.23 L809.02,489.74 L809.02,491.25 L809.02,492.76 L809.02,494.27 L809.03,495.78 L809.03,497.28 L809.03,498.79 L809.03,500.30 L809.03,501.81 L809.03,503.32 L809.03,504.83 L809.03,506.33 L809.03,507.84 L809.03,509.35 L809.03,510.86 L809.03,512.37 L809.04,513.87 L809.04,515.38 L809.04,516.89 L809.04,518.40 L809.04,519.91 L809.04,521.41 L809.05,522.92 L809.05,524.43 L809.05,525.94 L809.06,527.44 L809.06,528.95 L809.06,530.46 L809.07,531.96 L809.08,533.47 L809.08,534.98 L809.09,536.48 L809.10,537.99 L809.11,539.50 L809.12,541.00 L809.13,542.51 L809.14,544.02 L809.15,545.52 L809.16,547.03 L809.18,548.53 L809.19,550.04 L809.21,551.55 L809.22,553.05 L809.24,554.56 L809.26,556.06 L809.28,557.57 L809.30,559.07 L809.32,560.57 L809.35,562.08 L809.37,563.58 L809.40,565.09 L809.43,566.59 L809.45,568.09 L809.48,569.60 L809.52,571.10 L809.55,572.60 L809.58,574.11 L809.62,575.61 L809.66,577.11 L809.70,578.61 L809.74,580.12 L809.78,581.62 L809.83,583.12 L809.87,584.62 L809.92,586.12 L809.97,587.62 L810.02,589.12 L810.08,590.62 L810.13,592.12 L810.19,593.62 L810.25,595.12 L810.31,596.62 L810.38,598.12 L810.44,599.62 L810.51,601.12 L810.58,602.62 L810.65,604.12 L810.73,605.61 L810.81,607.11 L810.88,608.61 L810.97,610.11 L811.05,611.60 L811.14,613.10 L811.23,614.60 L811.32,616.09 L811.41,617.59 L811.51,619.08 L811.61,620.58 L811.71,622.07 L811.81,623.57 L811.92,625.06 L812.03,626.55 L812.14,628.05 L812.26,629.54 L812.37,631.03 L812.49,632.53 L812.62,634.02 L812.75,635.51 L812.87,637.00 L813.01,638.49 L813.14,639.98 L813.28,641.47 L813.42,642.96 L813.57,644.45 L813.72,645.94 L813.87,647.43 L814.02,648.92 L814.18,650.41 L814.34,651.89 L814.51,653.38 L814.67,654.87 L814.84,656.35 L815.02,657.84 L815.20,659.33 L815.38,660.81 L815.56,662.30 L815.75,663.78 L815.95,665.26 L816.14,666.75 L816.34,668.23 L816.54,669.71 L816.75,671.20 L816.96,672.68 L817.18,674.16 L817.40,675.64 L817.62,677.12 L817.85,678.60 L818.08,680.08 L818.31,681.56 L818.55,683.04 L818.79,684.52 L819.04,686.00 L819.29,687.47 L819.54,688.95 L819.80,690.43 L820.07,691.90 L820.33,693.38 L820.60,694.85 L820.88,696.33 L821.16,697.80 L821.45,699.27 L821.74,700.75 L822.03,702.22 L822.33,703.69 L822.63,705.16 L822.94,706.63 L823.25,708.10 L823.57,709.57 L823.89,711.04 L824.21,712.51 L824.54,713.98 L824.88,715.45 L825.22,716.92 L825.57,718.38 L825.92,719.85 L826.27,721.31 L826.63,722.78 L827.00,724.24 L827.37,725.70 L827.74,727.17 L828.13,728.63 L828.51,730.09 L828.91,731.54 L829.31,733.00 L829.71,734.45 L830.12,735.91 L830.54,737.36 L830.96,738.81 L831.39,740.25 L831.83,741.70 L832.27,743.14 L832.72,744.58 L833.17,746.02 L833.64,747.46 L834.11,748.89 L834.58,750.32 L835.07,751.75 L835.56,753.18 L836.05,754.60 L836.56,756.02 L837.07,757.44 L837.59,758.85 L838.12,760.26 L838.65,761.67 L839.20,763.07 L839.75,764.47 L840.31,765.87 L840.87,767.26 L841.45,768.65 L842.03,770.03 L842.62,771.41 L843.23,772.79 L843.83,774.16 L844.45,775.53 L845.08,776.89 L845.71,778.25 L846.36,779.61 L847.01,780.96 L847.68,782.30 L848.35,783.64 L849.03,784.98 L849.72,786.31 L850.42,787.63 L851.12,788.95 L851.84,790.27 L852.56,791.58 L853.30,792.89 L854.04,794.19 L854.79,795.49 L855.55,796.78 L856.32,798.07 L857.09,799.35 L857.88,800.63 L858.67,801.90 L859.47,803.17 L860.27,804.43 L861.09,805.69 L861.91,806.94 L862.75,808.19 L863.58,809.43 L864.43,810.67 L865.28,811.91 L866.15,813.13 L867.02,814.36 L867.89,815.58 L868.78,816.79 L869.67,818.00 L870.57,819.20 L871.47,820.40 L872.38,821.59 L873.30,822.78 L874.23,823.97 L875.16,825.15 L876.10,826.32 L877.05,827.49 L878.00,828.65 L878.96,829.81 L879.92,830.97 L880.90,832.11 L881.87,833.26 L882.86,834.40 L883.85,835.53 L884.85,836.66 L885.85,837.79 L886.86,838.91 L887.87,840.02 L888.89,841.13 L889.92,842.24 L890.95,843.34 L891.98,844.43 L893.03,845.52 L894.07,846.61 L895.13,847.69 L896.19,848.77 L897.25,849.84 L898.32,850.90 L899.39,851.97 L900.47,853.02 L901.55,854.08 L902.64,855.12 L903.73,856.17 L904.83,857.20 L905.93,858.24 L907.03,859.27 L908.14,860.29 L909.26,861.31 L910.38,862.32 L911.50,863.33 L912.63,864.34 L913.76,865.34 L914.89,866.33 L916.03,867.32 L917.17,868.31 L918.32,869.29 L919.47,870.27 L920.62,871.24 L921.78,872.21 L922.94,873.17 L924.10,874.13 L925.27,875.08 L926.44,876.03 L927.62,876.97 L928.79,877.91 L929.97,878.85 L931.16,879.78 L932.35,880.70 L933.54,881.62 L934.73,882.54 L935.93,883.45 L937.13,884.35 L938.33,885.25 L939.54,886.15 L940.75,887.04 L941.96,887.93 L943.18,888.81 L944.40,889.68 L945.62,890.56 L946.85,891.42 L948.08,892.29 L949.31,893.14 L950.55,893.99 L951.79,894.84 L953.03,895.68 L954.28,896.52 L955.53,897.35 L956.78,898.18 L958.03,899.00 L959.29,899.82 L960.55,900.63 L961.81,901.44 L963.08,902.24 L964.35,903.04 L965.62,903.83 L966.90,904.62 L968.18,905.40 L969.46,906.18 L970.75,906.95 L972.03,907.72 L973.32,908.48 L974.62,909.24 L975.91,909.99 L977.21,910.74 L978.51,911.48 L979.82,912.21 L981.13,912.94 L982.44,913.67 L983.75,914.39 L985.07,915.11 L986.38,915.82 L987.71,916.52 L989.03,917.22 L990.36,917.92 L991.69,918.60 L993.02,919.29 L994.36,919.97 L995.69,920.64 L997.03,921.31" fill="none" stroke="#ff7f0e" stroke-opacity="0.8" stroke-width="4.17" stroke-linejoin="round" stroke-linecap="butt" stroke-dasharray="15.42 6.67" stroke-dashoffset="6.86"/>
<path d="M734.40,166.30 L737.40,164.60" fill="none" stroke="#ff7f0e" stroke-opacity="0.8" stroke-width="4.17" stroke-linejoin="round" stroke-linecap="butt"/>
<path d="M796.80,177.90 L805.70,185.60 L810.50,191.20 L819.80,201.70 L823.00,205.50" fill="none" stroke="#ff7f0e" stroke-opacity="0.8" stroke-width="4.17" stroke-linejoin="round" stroke-linecap="butt" stroke-dasharray="15.42 6.67" stroke-dashoffset="3.60"/>
<path d="M483.11,130.34 L484.60,130.11 L486.09,129.89 L487.59,129.66 L489.08,129.43 L490.57,129.20 L492.06,128.98 L493.56,128.75 L495.05,128.52 L496.54,128.29 L498.04,128.06 L499.53,127.83 L501.03,127.60 L502.52,127.37 L504.01,127.14 L505.51,126.90 L507.00,126.67 L508.50,126.44 L509.99,126.21 L511.49,125.98 L512.99,125.75 L514.48,125.51 L515.98,125.28 L517.47,125.05 L518.97,124.82 L520.47,124.59 L521.96,124.36 L523.46,124.12 L524.96,123.89 L526.46,123.66 L527.95,123.43 L529.45,123.20 L530.95,122.97 L532.45,122.74 L533.95,122.51 L535.45,122.28 L536.95,122.05 L538.44,121.82 L539.94,121.60 L541.44,121.37 L542.94,121.14 L544.44,120.91 L545.94,120.69 L547.44,120.46 L548.94,120.24 L550.44,120.02 L551.94,119.79 L553.45,119.57 L554.95,119.35 L556.45,119.13 L557.95,118.91 L559.45,118.69 L560.95,118.47 L562.46,118.25 L563.96,118.04 L565.46,117.82 L566.96,117.61 L568.46,117.40 L569.97,117.18 L571.47,116.97 L572.97,116.76 L574.48,116.56 L575.98,116.35 L577.48,116.14 L578.99,115.94 L580.49,115.73 L582.00,115.53 L583.50,115.33 L585.00,115.13 L586.51,114.93 L588.01,114.74 L589.52,114.54 L591.02,114.35 L592.53,114.15 L594.03,113.96 L595.54,113.78 L597.05,113.59 L598.55,113.40 L600.06,113.22 L601.56,113.04 L603.07,112.86 L604.58,112.68 L606.08,112.50 L607.59,112.32 L609.10,112.15 L610.60,111.98 L612.11,111.81 L613.62,111.64 L615.13,111.48 L616.63,111.31 L618.14,111.15 L619.65,110.99 L621.16,110.84 L622.67,110.68 L624.17,110.53 L625.68,110.38 L627.19,110.23 L628.70,110.08 L630.21,109.94 L631.72,109.80 L633.23,109.66 L634.73,109.52 L636.24,109.39 L637.75,109.26 L639.26,109.13 L640.77,109.00 L642.28,108.88 L643.79,108.75 L645.30,108.64 L646.81,108.52 L648.32,108.40 L649.83,108.29 L651.34,108.18 L652.85,108.08 L654.36,107.98 L655.88,107.88 L657.39,107.78 L658.90,107.68 L660.41,107.59 L661.92,107.50 L663.43,107.42 L664.94,107.34 L666.45,107.26 L667.97,107.18 L669.48,107.11 L670.99,107.04 L672.50,106.97 L674.01,106.90 L675.53,106.84 L677.04,106.79 L678.55,106.73 L680.06,106.68 L681.58,106.63 L683.09,106.59 L684.60,106.55 L686.11,106.51 L687.63,106.48 L689.14,106.44 L690.65,106.42 L692.17,106.39 L693.68,106.37 L695.19,106.36 L696.71,106.34 L698.22,106.34 L699.74,106.33 L701.25,106.33 L702.76,106.33 L704.28,106.34 L705.79,106.35 L707.30,106.36 L708.82,106.38 L710.33,106.40 L711.85,106.42 L713.36,106.45 L714.88,106.48 L716.39,106.52 L717.91,106.56 L719.42,106.61 L720.94,106.66 L722.45,106.71 L723.97,106.77 L725.48,106.83 L727.00,106.90 L728.51,106.97 L730.03,107.04 L731.54,107.12 L733.06,107.20 L734.57,107.29 L736.09,107.38 L737.60,107.48 L739.12,107.58" fill="none" stroke="#d62728" stroke-opacity="0.8" stroke-width="4.17" stroke-linejoin="round" stroke-linecap="butt" stroke-dasharray="15.42 6.67" stroke-dashoffset="0.00"/>
<path d="M387.54,173.99 L389.04,173.80 L390.53,173.61 L392.03,173.43 L393.53,173.24 L395.03,173.06 L396.53,172.87 L398.03,172.69 L399.52,172.50 L401.02,172.32 L402.52,172.14 L404.02,171.95 L405.52,171.77 L407.02,171.59 L408.52,171.41 L410.02,171.23 L411.52,171.05 L413.02,170.87 L414.52,170.70 L416.02,170.52 L417.52,170.34 L419.02,170.17 L420.52,169.99 L422.02,169.82 L423.53,169.64 L425.03,169.47 L426.53,169.30 L428.03,169.12 L429.53,168.95 L431.03,168.78 L432.54,168.61 L434.04,168.44 L435.54,168.28 L437.04,168.11 L438.55,167.94 L440.05,167.78 L441.55,167.61 L443.05,167.45 L444.56,167.28 L446.06,167.12 L447.56,166.96 L449.07,166.80 L450.57,166.64 L452.07,166.48 L453.58,166.32 L455.08,166.16 L456.59,166.01 L458.09,165.85 L459.60,165.69 L461.10,165.54 L462.60,165.39 L464.11,165.23 L465.61,165.08 L467.12,164.93 L468.62,164.78 L470.13,164.63 L471.63,164.48 L473.14,164.34 L474.64,164.19 L476.15,164.05 L477.66,163.90 L479.16,163.76 L480.67,163.62 L482.17,163.48 L483.68,163.34 L485.19,163.20 L486.69,163.06 L488.20,162.92 L489.70,162.78 L491.21,162.65 L492.72,162.52 L494.22,162.38 L495.73,162.25 L497.24,162.12 L498.75,161.99 L500.25,161.86 L501.76,161.73 L503.27,161.61 L504.77,161.48 L506.28,161.36 L507.79,161.23 L509.30,161.11 L510.81,160.99 L512.31,160.87 L513.82,160.75 L515.33,160.63 L516.84,160.52 L518.35,160.40 L519.85,160.29 L521.36,160.17 L522.87,160.06 L524.38,159.95 L525.89,159.84 L527.40,159.73 L528.90,159.63 L530.41,159.52 L531.92,159.42 L533.43,159.31 L534.94,159.21 L536.45,159.11 L537.96,159.01 L539.47,158.91 L540.98,158.82 L542.49,158.72 L544.00,158.63 L545.51,158.53 L547.01,158.44 L548.52,158.35 L550.03,158.26 L551.54,158.17 L553.05,158.09 L554.56,158.00 L556.07,157.92 L557.58,157.84 L559.09,157.75 L560.60,157.68 L562.11,157.60 L563.62,157.52 L565.13,157.44 L566.64,157.37 L568.15,157.30 L569.66,157.23 L571.18,157.16 L572.69,157.09 L574.20,157.02 L575.71,156.96 L577.22,156.89 L578.73,156.83 L580.24,156.77 L581.75,156.71 L583.26,156.65 L584.77,156.60 L586.28,156.54 L587.79,156.49 L589.30,156.44 L590.81,156.39 L592.33,156.34 L593.84,156.29 L595.35,156.24 L596.86,156.20 L598.37,156.16 L599.88,156.12 L601.39,156.08 L602.90,156.04 L604.41,156.00 L605.93,155.97 L607.44,155.94 L608.95,155.90 L610.46,155.87 L611.97,155.85 L613.48,155.82 L614.99,155.80 L616.51,155.77 L618.02,155.75 L619.53,155.73 L621.04,155.71 L622.55,155.70 L624.06,155.68 L625.57,155.67 L627.09,155.66 L628.60,155.65 L630.11,155.64 L631.62,155.63 L633.13,155.63 L634.64,155.63 L636.16,155.63 L637.67,155.63 L639.18,155.63 L640.69,155.64 L642.20,155.64 L643.71,155.65 L645.22,155.66 L646.74,155.67 L648.25,155.69 L649.76,155.70 L651.27,155.72 L652.78,155.74 L654.29,155.76 L655.81,155.78 L657.32,155.81 L658.83,155.83 L660.34,155.86 L661.85,155.89 L663.36,155.92 L664.88,155.96 L666.39,156.00 L667.90,156.03 L669.41,156.07 L670.92,156.12 L672.43,156.16 L673.94,156.21 L675.46,156.25 L676.97,156.30 L678.48,156.35 L679.99,156.41 L681.50,156.46 L683.01,156.52 L684.52,156.58 L686.04,156.64 L687.55,156.71 L689.06,156.77 L690.57,156.84 L692.08,156.91 L693.59,156.98 L695.10,157.06 L696.61,157.13 L698.13,157.21 L699.64,157.29 L701.15,157.38 L702.66,157.46 L704.17,157.55 L705.68,157.64 L707.19,157.73 L708.70,157.82 L710.21,157.91" fill="none" stroke="#d62728" stroke-opacity="0.8" stroke-width="4.17" stroke-linejoin="round" stroke-linecap="butt" stroke-dasharray="15.42 6.67" stroke-dashoffset="0.43"/>
<path d="M380.98,205.46 L382.48,205.24 L383.97,205.03 L385.46,204.82 L386.95,204.60 L388.44,204.39 L389.94,204.18 L391.43,203.97 L392.92,203.76 L394.41,203.55 L395.90,203.34 L397.40,203.13 L398.89,202.92 L400.38,202.71 L401.88,202.50 L403.37,202.29 L404.86,202.08 L406.35,201.88 L407.85,201.67 L409.34,201.46 L410.83,201.26 L412.33,201.05 L413.82,200.85 L415.31,200.64 L416.81,200.44 L418.30,200.23 L419.80,200.03 L421.29,199.83 L422.78,199.62 L424.28,199.42 L425.77,199.22 L427.27,199.02 L428.76,198.82 L430.26,198.62 L431.75,198.42 L433.24,198.22 L434.74,198.02 L436.23,197.82 L437.73,197.62 L439.22,197.42 L440.72,197.23 L442.21,197.03 L443.71,196.83 L445.20,196.64 L446.70,196.44 L448.20,196.25 L449.69,196.05 L451.19,195.86 L452.68,195.66 L454.18,195.47 L455.67,195.28 L457.17,195.09 L458.67,194.89 L460.16,194.70 L461.66,194.51 L463.15,194.32 L464.65,194.13 L466.15,193.94 L467.64,193.75 L469.14,193.57 L470.64,193.38 L472.13,193.19 L473.63,193.00 L475.13,192.82 L476.63,192.63 L478.12,192.45 L479.62,192.26 L481.12,192.08 L482.61,191.89 L484.11,191.71 L485.61,191.53 L487.11,191.35 L488.60,191.16 L490.10,190.98 L491.60,190.80 L493.10,190.62 L494.60,190.44 L496.09,190.27 L497.59,190.09 L499.09,189.91 L500.59,189.73 L502.09,189.56 L503.58,189.38 L505.08,189.20 L506.58,189.03 L508.08,188.85 L509.58,188.68 L511.08,188.51 L512.58,188.33 L514.07,188.16 L515.57,187.99 L517.07,187.82 L518.57,187.65 L520.07,187.48 L521.57,187.31 L523.07,187.14 L524.57,186.97 L526.07,186.81 L527.57,186.64 L529.07,186.47 L530.57,186.31 L532.07,186.14 L533.57,185.98 L535.07,185.81 L536.57,185.65 L538.07,185.49 L539.57,185.32 L541.07,185.16 L542.57,185.00 L544.07,184.84 L545.57,184.68 L547.07,184.52 L548.57,184.36 L550.07,184.21 L551.57,184.05 L553.07,183.89 L554.57,183.74 L556.07,183.58 L557.57,183.43 L559.07,183.27 L560.57,183.12 L562.07,182.97 L563.57,182.81 L565.07,182.66 L566.58,182.51 L568.08,182.36 L569.58,182.21 L571.08,182.06 L572.58,181.92 L574.08,181.77 L575.58,181.62 L577.09,181.47 L578.59,181.33 L580.09,181.18 L581.59,181.04 L583.09,180.90 L584.59,180.75 L586.10,180.61 L587.60,180.47 L589.10,180.33 L590.60,180.19 L592.10,180.05 L593.61,179.91 L595.11,179.77 L596.61,179.63 L598.11,179.50 L599.62,179.36 L601.12,179.23 L602.62,179.09 L604.12,178.96 L605.63,178.82 L607.13,178.69 L608.63,178.56 L610.13,178.43 L611.64,178.30 L613.14,178.17 L614.64,178.04 L616.15,177.91 L617.65,177.78 L619.15,177.66 L620.65,177.53 L622.16,177.41 L623.66,177.28 L625.16,177.16 L626.67,177.03 L628.17,176.91 L629.67,176.79 L631.18,176.67 L632.68,176.55 L634.19,176.43 L635.69,176.31 L637.19,176.19 L638.70,176.08 L640.20,175.96 L641.70,175.84 L643.21,175.73 L644.71,175.62 L646.22,175.50 L647.72,175.39 L649.22,175.28 L650.73,175.17 L652.23,175.06 L653.74,174.95 L655.24,174.84 L656.74,174.73 L658.25,174.62 L659.75,174.52 L661.26,174.41 L662.76,174.31 L664.27,174.20 L665.77,174.10 L667.28,174.00 L668.78,173.90 L670.28,173.80 L671.79,173.70 L673.29,173.60 L674.80,173.50 L676.30,173.40 L677.81,173.31 L679.31,173.21 L680.82,173.11 L682.32,173.02 L683.83,172.93 L685.33,172.84 L686.84,172.74 L688.34,172.65 L689.85,172.56 L691.35,172.47 L692.86,172.39 L694.36,172.30 L695.87,172.21 L697.38,172.13 L698.88,172.04 L700.39,171.96 L701.89,171.88 L703.40,171.79 L704.90,171.71 L706.41,171.63 L707.91,171.55 L709.42,171.47 L710.93,171.40 L712.43,171.32 L713.94,171.24 L715.44,171.17 L716.95,171.10 L718.45,171.02 L719.96,170.95 L721.47,170.88 L722.97,170.81 L724.48,170.74 L725.98,170.67 L727.49,170.60 L729.00,170.54 L730.50,170.47 L732.01,170.41 L733.52,170.34 L735.02,170.28 L736.53,170.22 L738.03,170.16 L739.54,170.10 L741.05,170.04 L742.55,169.98 L744.06,169.92 L745.57,169.86 L747.07,169.81 L748.58,169.75 L750.09,169.70 L751.59,169.65 L753.10,169.60 L754.61,169.55 L756.11,169.50 L757.62,169.45 L759.13,169.40 L760.63,169.35 L762.14,169.31 L763.65,169.26 L765.15,169.22 L766.66,169.18 L768.17,169.13 L769.67,169.09" fill="none" stroke="#d62728" stroke-opacity="0.8" stroke-width="4.17" stroke-linejoin="round" stroke-linecap="butt" stroke-dasharray="15.42 6.67" stroke-dashoffset="0.00"/>
<path d="M373.00,208.70 L373.90,204.30" fill="none" stroke="#d62728" stroke-opacity="0.8" stroke-width="2.4" stroke-linejoin="round" stroke-linecap="butt"/>
<path d="M766.35,129.04 L767.45,130.08 L768.54,131.12 L769.63,132.16 L770.71,133.22 L771.78,134.27 L772.85,135.33 L773.91,136.40 L774.96,137.48 L776.01,138.55 L777.05,139.64 L778.09,140.73 L779.12,141.82 L780.14,142.92 L781.16,144.02 L782.17,145.13 L783.18,146.25 L784.18,147.37 L785.17,148.49 L786.16,149.62 L787.15,150.75 L788.12,151.89 L789.09,153.03 L790.06,154.18 L791.02,155.33 L791.97,156.49 L792.92,157.65 L793.86,158.82 L794.80,159.99 L795.73,161.16 L796.66,162.34 L797.58,163.53 L798.49,164.71 L799.40,165.91 L800.30,167.10 L801.20,168.30 L802.10,169.51 L802.98,170.71 L803.87,171.93 L804.74,173.14 L805.61,174.36 L806.48,175.59 L807.34,176.81 L808.20,178.05 L809.05,179.28 L809.90,180.52 L810.74,181.76 L811.57,183.01 L812.40,184.26 L813.23,185.51 L814.05,186.77 L814.86,188.03 L815.67,189.30 L816.48,190.56 L817.28,191.83 L818.08,193.11 L818.87,194.38 L819.65,195.67 L820.44,196.95 L821.21,198.24 L821.98,199.52 L822.75,200.82 L823.51,202.11 L824.27,203.41 L825.03,204.71 L825.77,206.02 L826.52,207.32 L827.26,208.63 L827.99,209.95 L828.72,211.26 L829.45,212.58 L830.17,213.90 L830.89,215.22 L831.60,216.55 L832.31,217.88 L833.02,219.21 L833.72,220.54 L834.41,221.87 L835.10,223.21 L835.79,224.55 L836.48,225.89 L837.15,227.24 L837.83,228.58 L838.50,229.93 L839.17,231.28 L839.83,232.63 L840.49,233.99 L841.14,235.34 L841.80,236.70 L842.44,238.06 L843.09,239.42 L843.73,240.78 L844.36,242.15 L844.99,243.51 L845.62,244.88 L846.24,246.25 L846.86,247.62 L847.48,248.99 L848.09,250.37 L848.70,251.74 L849.31,253.12 L849.91,254.50 L850.51,255.88 L851.10,257.26 L851.69,258.64 L852.28,260.03 L852.86,261.42 L853.44,262.80 L854.01,264.19 L854.58,265.58 L855.15,266.97 L855.72,268.37 L856.28,269.76 L856.83,271.16 L857.38,272.56 L857.93,273.96 L858.48,275.36 L859.02,276.76 L859.56,278.16 L860.09,279.57 L860.62,280.97 L861.15,282.38 L861.67,283.79 L862.19,285.20 L862.71,286.61 L863.22,288.02 L863.73,289.44 L864.23,290.85 L864.73,292.27 L865.23,293.69 L865.72,295.10 L866.21,296.52 L866.70,297.94 L867.18,299.37 L867.66,300.79 L868.13,302.22 L868.60,303.64 L869.07,305.07 L869.53,306.50 L870.00,307.93 L870.45,309.36 L870.90,310.79 L871.35,312.22 L871.80,313.65 L872.24,315.09 L872.68,316.52 L873.12,317.96 L873.55,319.40 L873.97,320.84 L874.40,322.28 L874.82,323.72 L875.24,325.16 L875.65,326.60 L876.06,328.05 L876.47,329.49 L876.87,330.94 L877.27,332.39 L877.66,333.83 L878.05,335.28 L878.44,336.73 L878.83,338.18 L879.21,339.63 L879.58,341.09 L879.96,342.54 L880.33,343.99 L880.70,345.45 L881.06,346.90 L881.42,348.36 L881.78,349.82 L882.13,351.28 L882.48,352.73 L882.82,354.19 L883.16,355.65 L883.50,357.12 L883.84,358.58 L884.17,360.04 L884.50,361.50 L884.83,362.97 L885.15,364.43 L885.47,365.90 L885.78,367.37 L886.09,368.83 L886.40,370.30 L886.71,371.77 L887.01,373.24 L887.31,374.71 L887.61,376.18 L887.90,377.65 L888.19,379.12 L888.47,380.60 L888.76,382.07 L889.04,383.55 L889.32,385.02 L889.59,386.50 L889.86,387.97 L890.13,389.45 L890.40,390.93 L890.66,392.40 L890.92,393.88 L891.18,395.36 L891.43,396.84 L891.68,398.32 L891.93,399.80 L892.17,401.28 L892.42,402.77 L892.66,404.25 L892.89,405.73 L893.13,407.22 L893.36,408.70 L893.59,410.18 L893.81,411.67 L894.04,413.15 L894.26,414.64 L894.47,416.13 L894.69,417.62 L894.90,419.10 L895.11,420.59 L895.32,422.08 L895.53,423.57 L895.73,425.06 L895.93,426.55 L896.13,428.04 L896.32,429.53 L896.52,431.02 L896.71,432.51 L896.89,434.00 L897.08,435.50 L897.26,436.99 L897.44,438.48 L897.62,439.98 L897.80,441.47 L897.97,442.96 L898.15,444.46 L898.32,445.95 L898.48,447.45 L898.65,448.95 L898.81,450.44 L898.97,451.94 L899.13,453.43 L899.29,454.93 L899.44,456.43 L899.60,457.93 L899.75,459.42 L899.90,460.92 L900.04,462.42 L900.19,463.92 L900.33,465.42 L900.47,466.92 L900.61,468.42 L900.75,469.92 L900.88,471.42 L901.01,472.92 L901.15,474.42 L901.27,475.92 L901.40,477.42 L901.53,478.92 L901.65,480.42 L901.77,481.92 L901.90,483.42 L902.01,484.92 L902.13,486.43 L902.25,487.93 L902.36,489.43 L902.47,490.93 L902.58,492.43 L902.69,493.94 L902.80,495.44 L902.91,496.94 L903.01,498.44 L903.11,499.95 L903.22,501.45 L903.32,502.95 L903.41,504.46 L903.51,505.96 L903.61,507.46 L903.70,508.97 L903.79,510.47 L903.89,511.97 L903.98,513.47 L904.07,514.98 L904.15,516.48 L904.24,517.98 L904.33,519.49 L904.41,520.99 L904.49,522.49 L904.57,524.00 L904.65,525.50 L904.73,527.00 L904.81,528.51 L904.89,530.01 L904.97,531.51 L905.04,533.02 L905.11,534.52 L905.19,536.02 L905.26,537.52 L905.33,539.03 L905.40,540.53 L905.47,542.03 L905.54,543.53 L905.60,545.04 L905.67,546.54 L905.74,548.04 L905.80,549.54 L905.86,551.04 L905.93,552.54 L905.99,554.04 L906.05,555.55 L906.11,557.05 L906.17,558.55 L906.23,560.05 L906.29,561.55 L906.35,563.05 L906.41,564.55 L906.46,566.05 L906.52,567.55 L906.58,569.05 L906.63,570.55 L906.69,572.05 L906.74,573.55 L906.79,575.05 L906.85,576.55 L906.90,578.05 L906.95,579.55 L907.01,581.05 L907.06,582.55 L907.11,584.04 L907.16,585.54 L907.21,587.04 L907.27,588.54 L907.32,590.04 L907.37,591.54 L907.42,593.04 L907.47,594.54 L907.52,596.03 L907.57,597.53 L907.62,599.03 L907.67,600.53 L907.72,602.03 L907.77,603.53 L907.83,605.03 L907.88,606.52 L907.93,608.02 L907.98,609.52 L908.03,611.02 L908.08,612.52 L908.13,614.02 L908.19,615.51 L908.24,617.01 L908.29,618.51 L908.34,620.01 L908.40,621.51 L908.45,623.01 L908.51,624.50 L908.56,626.00 L908.61,627.50 L908.67,629.00 L908.73,630.50 L908.78,632.00 L908.84,633.49 L908.90,634.99 L908.96,636.49 L909.01,637.99 L909.07,639.49 L909.13,640.99 L909.19,642.49 L909.26,643.98 L909.32,645.48 L909.38,646.98 L909.45,648.48 L909.51,649.98 L909.58,651.48 L909.64,652.98 L909.71,654.48 L909.78,655.98 L909.85,657.48 L909.92,658.98 L909.99,660.48 L910.06,661.98 L910.13,663.48 L910.21,664.97 L910.28,666.47 L910.36,667.98 L910.44,669.48 L910.51,670.98 L910.59,672.48 L910.67,673.98 L910.76,675.48 L910.84,676.98 L910.93,678.48 L911.01,679.98 L911.10,681.48 L911.19,682.98 L911.28,684.48 L911.37,685.99 L911.46,687.49 L911.56,688.99 L911.65,690.49 L911.75,691.99 L911.85,693.50 L911.95,695.00 L912.05,696.50 L912.16,698.00 L912.26,699.51 L912.37,701.01 L912.48,702.51 L912.59,704.02 L912.70,705.52 L912.82,707.02 L912.94,708.53 L913.05,710.03 L913.18,711.53 L913.30,713.03 L913.43,714.54 L913.56,716.04 L913.69,717.54 L913.82,719.04 L913.96,720.55 L914.10,722.05 L914.24,723.55 L914.39,725.05 L914.54,726.55 L914.69,728.05 L914.84,729.55 L915.00,731.05 L915.16,732.55 L915.33,734.05 L915.50,735.55 L915.67,737.04 L915.84,738.54 L916.02,740.04 L916.21,741.53 L916.39,743.03 L916.58,744.52 L916.78,746.01 L916.98,747.51 L917.18,749.00 L917.39,750.49 L917.60,751.98 L917.82,753.47 L918.04,754.96 L918.26,756.45 L918.49,757.93 L918.72,759.42 L918.96,760.90 L919.21,762.39 L919.46,763.87 L919.71,765.35 L919.97,766.83 L920.23,768.31 L920.50,769.79 L920.78,771.26 L921.06,772.74 L921.34,774.21 L921.63,775.69 L921.93,777.16 L922.23,778.63 L922.54,780.10 L922.85,781.57 L923.17,783.03 L923.49,784.50 L923.82,785.96 L924.16,787.42 L924.50,788.88 L924.85,790.34 L925.21,791.80 L925.57,793.25 L925.94,794.71 L926.31,796.16 L926.70,797.61 L927.08,799.06 L927.48,800.51 L927.88,801.95 L928.29,803.39 L928.71,804.84 L929.13,806.27 L929.56,807.71 L930.00,809.15 L930.45,810.58 L930.90,812.01 L931.36,813.43 L931.83,814.86 L932.31,816.28 L932.80,817.70 L933.29,819.11 L933.79,820.52 L934.31,821.93 L934.83,823.34 L935.36,824.74 L935.90,826.14 L936.44,827.53 L937.00,828.92 L937.57,830.31 L938.14,831.69 L938.73,833.07 L939.32,834.44 L939.93,835.82 L940.54,837.18 L941.16,838.55 L941.79,839.90 L942.44,841.26 L943.09,842.61 L943.74,843.95 L944.41,845.30 L945.09,846.63 L945.78,847.96 L946.47,849.29 L947.18,850.62 L947.89,851.93 L948.61,853.25 L949.34,854.56 L950.08,855.86 L950.83,857.16 L951.59,858.45 L952.36,859.74 L953.13,861.03 L953.92,862.31 L954.71,863.58 L955.51,864.85 L956.33,866.11 L957.14,867.37 L957.97,868.62 L958.81,869.87 L959.66,871.11 L960.51,872.35 L961.37,873.58 L962.24,874.80 L963.12,876.02 L964.01,877.23 L964.91,878.44 L965.81,879.64 L966.72,880.84 L967.64,882.03 L968.57,883.22 L969.50,884.40 L970.45,885.57 L971.40,886.74 L972.35,887.90 L973.32,889.05 L974.29,890.20 L975.27,891.35 L976.26,892.48 L977.26,893.61 L978.26,894.74 L979.27,895.86 L980.29,896.97 L981.31,898.08 L982.34,899.18 L983.38,900.27 L984.43,901.36 L985.48,902.44 L986.54,903.51 L987.60,904.58 L988.67,905.64 L989.75,906.70 L990.84,907.74 L991.93,908.79 L993.03,909.82 L994.13,910.85 L995.24,911.87 L996.36,912.88 L997.48,913.89 L998.61,914.89 L999.74,915.89 L1000.88,916.87 L1002.03,917.85 L1003.18,918.82 L1004.34,919.79 L1005.50,920.75 L1006.67,921.70 L1007.85,922.65 L1009.03,923.58 L1010.21,924.51 L1011.40,925.44 L1012.60,926.35 L1013.80,927.26 L1015.01,928.16 L1016.22,929.05 L1017.44,929.94 L1018.66,930.82 L1019.88,931.69 L1021.12,932.55 L1022.35,933.41 L1023.59,934.25 L1024.84,935.09 L1026.09,935.93 L1027.34,936.75 L1028.60,937.57 L1029.87,938.38 L1031.13,939.18 L1032.41,939.97 L1033.68,940.76 L1034.96,941.54 L1036.25,942.30 L1037.54,943.07 L1038.83,943.82 L1040.12,944.57 L1041.42,945.30 L1042.73,946.03 L1044.04,946.75 L1045.35,947.46 L1046.66,948.17 L1047.98,948.86 L1049.30,949.55 L1050.63,950.23 L1051.96,950.90 L1053.29,951.56 L1054.62,952.22 L1055.96,952.86" fill="none" stroke="#1f77b4" stroke-opacity="0.8" stroke-width="4.17" stroke-linejoin="round" stroke-linecap="butt" stroke-dasharray="15.42 6.67" stroke-dashoffset="4.34"/>
<path d="M844.48,241.97 L845.11,243.34 L845.74,244.70 L846.37,246.07 L846.99,247.45 L847.61,248.82 L848.22,250.20 L848.83,251.58 L849.43,252.96 L850.03,254.34 L850.63,255.72 L851.22,257.10 L851.81,258.49 L852.39,259.88 L852.97,261.27 L853.54,262.66 L854.11,264.05 L854.68,265.45 L855.24,266.84 L855.80,268.24 L856.36,269.64 L856.91,271.04 L857.45,272.44 L858.00,273.84 L858.54,275.25 L859.07,276.65 L859.60,278.06 L860.13,279.47 L860.65,280.88 L861.17,282.29 L861.69,283.71 L862.20,285.12 L862.70,286.54 L863.21,287.95 L863.71,289.37 L864.20,290.79 L864.70,292.21 L865.19,293.64 L865.67,295.06 L866.15,296.48 L866.63,297.91 L867.10,299.34 L867.57,300.77 L868.04,302.19 L868.50,303.63 L868.96,305.06 L869.42,306.49 L869.87,307.92 L870.32,309.36 L870.76,310.79 L871.20,312.23 L871.64,313.67 L872.08,315.11 L872.51,316.55 L872.93,317.99 L873.36,319.43 L873.78,320.87 L874.19,322.32 L874.61,323.76 L875.02,325.21 L875.42,326.66 L875.83,328.10 L876.23,329.55 L876.62,331.00 L877.02,332.45 L877.41,333.90 L877.79,335.35 L878.18,336.80 L878.56,338.26 L878.93,339.71 L879.31,341.17 L879.68,342.62 L880.04,344.08 L880.41,345.53 L880.77,346.99 L881.13,348.45 L881.48,349.91 L881.83,351.37 L882.18,352.82 L882.52,354.29 L882.87,355.75 L883.21,357.21 L883.54,358.67 L883.87,360.13 L884.20,361.60 L884.53,363.06 L884.85,364.52 L885.17,365.99 L885.49,367.45 L885.81,368.92 L886.12,370.39 L886.43,371.85 L886.73,373.32 L887.04,374.79 L887.34,376.26 L887.63,377.73 L887.93,379.20 L888.22,380.67 L888.51,382.14 L888.79,383.61 L889.08,385.08 L889.36,386.56 L889.63,388.03 L889.91,389.50 L890.18,390.98 L890.45,392.45 L890.72,393.93 L890.98,395.40 L891.24,396.88 L891.50,398.36 L891.75,399.83 L892.01,401.31 L892.26,402.79 L892.50,404.27 L892.75,405.75 L892.99,407.23 L893.23,408.71 L893.47,410.19 L893.70,411.67 L893.94,413.15 L894.17,414.63 L894.39,416.12 L894.62,417.60 L894.84,419.08 L895.06,420.57 L895.28,422.05 L895.49,423.53 L895.70,425.02 L895.91,426.50 L896.12,427.99 L896.32,429.48 L896.53,430.96 L896.73,432.45 L896.92,433.94 L897.12,435.42 L897.31,436.91 L897.50,438.40 L897.69,439.89 L897.88,441.38 L898.06,442.87 L898.24,444.36 L898.42,445.85 L898.60,447.34 L898.77,448.83 L898.95,450.32 L899.12,451.82 L899.29,453.31 L899.45,454.80 L899.62,456.29 L899.78,457.79 L899.94,459.28 L900.10,460.77 L900.25,462.27 L900.40,463.76 L900.56,465.26 L900.70,466.75 L900.85,468.25 L901.00,469.74 L901.14,471.24 L901.28,472.73 L901.42,474.23 L901.56,475.73 L901.69,477.22 L901.83,478.72 L901.96,480.22 L902.09,481.72 L902.21,483.22 L902.34,484.71 L902.46,486.21 L902.59,487.71 L902.71,489.21 L902.82,490.71 L902.94,492.21 L903.05,493.71 L903.17,495.21 L903.28,496.71 L903.39,498.21 L903.49,499.71 L903.60,501.21 L903.70,502.71 L903.81,504.22 L903.91,505.72 L904.01,507.22 L904.10,508.72 L904.20,510.22 L904.29,511.72 L904.38,513.23 L904.48,514.73 L904.56,516.23 L904.65,517.74 L904.74,519.24 L904.82,520.74 L904.90,522.25 L904.99,523.75 L905.07,525.25 L905.14,526.76 L905.22,528.26 L905.30,529.77 L905.37,531.27 L905.44,532.77 L905.51,534.28 L905.58,535.78 L905.65,537.29 L905.72,538.79 L905.78,540.30 L905.84,541.80 L905.91,543.31 L905.97,544.81 L906.03,546.32 L906.09,547.83 L906.14,549.33 L906.20,550.84 L906.25,552.34 L906.31,553.85 L906.36,555.35 L906.41,556.86 L906.46,558.37 L906.51,559.87 L906.56,561.38 L906.61,562.89 L906.65,564.39 L906.70,565.90 L906.74,567.40 L906.79,568.91 L906.83,570.42 L906.87,571.92 L906.91,573.43 L906.95,574.94 L906.99,576.44 L907.03,577.95 L907.07,579.46 L907.11,580.96 L907.15,582.47 L907.19,583.98 L907.23,585.48 L907.26,586.99 L907.30,588.50 L907.34,590.00 L907.37,591.51 L907.41,593.02 L907.44,594.52 L907.48,596.03 L907.51,597.53 L907.55,599.04 L907.59,600.55 L907.62,602.05 L907.66,603.56 L907.69,605.07 L907.73,606.57 L907.76,608.08 L907.80,609.58 L907.84,611.09 L907.87,612.60 L907.91,614.10 L907.95,615.61 L907.99,617.11 L908.02,618.62 L908.06,620.12 L908.10,621.63 L908.14,623.14 L908.18,624.64 L908.22,626.15 L908.26,627.65 L908.31,629.16 L908.35,630.66 L908.39,632.17 L908.44,633.67 L908.48,635.17 L908.53,636.68 L908.58,638.18 L908.62,639.69 L908.67,641.19 L908.72,642.69 L908.78,644.20 L908.83,645.70 L908.88,647.21 L908.94,648.71 L908.99,650.21 L909.05,651.71 L909.11,653.22 L909.17,654.72 L909.23,656.22 L909.29,657.72 L909.36,659.23 L909.42,660.73 L909.49,662.23 L909.56,663.73 L909.63,665.23 L909.70,666.73 L909.77,668.23 L909.85,669.74 L909.92,671.24 L910.00,672.74 L910.08,674.24 L910.17,675.74 L910.25,677.24 L910.34,678.74 L910.42,680.23 L910.51,681.73 L910.61,683.23 L910.70,684.73 L910.80,686.23 L910.90,687.73 L911.00,689.22 L911.10,690.72 L911.21,692.22 L911.31,693.72 L911.42,695.21 L911.54,696.71 L911.65,698.21 L911.77,699.70 L911.89,701.20 L912.01,702.69 L912.13,704.19 L912.26,705.68 L912.39,707.18 L912.52,708.67 L912.66,710.16 L912.80,711.66 L912.94,713.15 L913.08,714.64 L913.23,716.14 L913.38,717.63 L913.53,719.12 L913.69,720.61 L913.85,722.10 L914.01,723.60 L914.17,725.09 L914.34,726.58 L914.51,728.07 L914.69,729.56 L914.86,731.05 L915.05,732.53 L915.23,734.02 L915.42,735.51 L915.61,737.00 L915.80,738.49 L916.00,739.97 L916.20,741.46 L916.41,742.95 L916.61,744.43 L916.83,745.92 L917.04,747.40 L917.26,748.89 L917.49,750.37 L917.71,751.86 L917.94,753.34 L918.18,754.82 L918.42,756.31 L918.66,757.79 L918.90,759.27 L919.16,760.75 L919.41,762.23 L919.67,763.71 L919.93,765.19 L920.20,766.67 L920.47,768.15 L920.74,769.63 L921.02,771.11 L921.31,772.59 L921.60,774.07 L921.89,775.54 L922.19,777.02 L922.49,778.49 L922.80,779.96 L923.11,781.44 L923.43,782.91 L923.76,784.38 L924.09,785.85 L924.42,787.31 L924.76,788.78 L925.11,790.24 L925.46,791.70 L925.82,793.16 L926.19,794.62 L926.56,796.08 L926.94,797.53 L927.33,798.99 L927.72,800.44 L928.12,801.89 L928.52,803.33 L928.94,804.78 L929.36,806.22 L929.78,807.65 L930.22,809.09 L930.66,810.52 L931.11,811.95 L931.57,813.38 L932.04,814.81 L932.51,816.23 L932.99,817.65 L933.48,819.06 L933.98,820.47 L934.49,821.88 L935.01,823.29 L935.53,824.69 L936.06,826.09 L936.61,827.48 L937.16,828.88 L937.72,830.26 L938.29,831.65 L938.87,833.03 L939.46,834.40 L940.05,835.77 L940.66,837.14 L941.28,838.50 L941.90,839.86 L942.53,841.22 L943.18,842.57 L943.83,843.92 L944.49,845.26 L945.16,846.60 L945.83,847.93 L946.52,849.26 L947.22,850.58 L947.92,851.90 L948.64,853.22 L949.36,854.53 L950.09,855.84 L950.83,857.14 L951.58,858.43 L952.34,859.72 L953.11,861.01 L953.88,862.29 L954.67,863.56 L955.46,864.84 L956.26,866.10 L957.08,867.36 L957.89,868.62 L958.72,869.86 L959.56,871.11 L960.41,872.35 L961.26,873.58 L962.13,874.81 L963.00,876.03 L963.88,877.24 L964.77,878.46 L965.67,879.66 L966.57,880.86 L967.49,882.05 L968.41,883.24 L969.34,884.42 L970.28,885.59 L971.23,886.76 L972.19,887.93 L973.15,889.08 L974.12,890.23 L975.10,891.38 L976.09,892.52 L977.08,893.65 L978.09,894.78 L979.10,895.89 L980.11,897.01 L981.14,898.12 L982.17,899.22 L983.21,900.31 L984.26,901.40 L985.31,902.48 L986.37,903.55 L987.44,904.62 L988.52,905.68 L989.60,906.74 L990.69,907.79 L991.78,908.83 L992.88,909.86 L993.99,910.89 L995.10,911.91 L996.22,912.93 L997.35,913.93 L998.48,914.93 L999.62,915.93 L1000.77,916.91 L1001.92,917.89 L1003.08,918.86 L1004.24,919.83 L1005.41,920.79 L1006.58,921.74 L1007.76,922.68 L1008.95,923.62 L1010.14,924.55 L1011.34,925.47 L1012.54,926.38 L1013.75,927.29 L1014.96,928.19 L1016.17,929.08 L1017.40,929.97 L1018.62,930.84 L1019.86,931.71 L1021.09,932.57 L1022.33,933.43 L1023.58,934.27 L1024.83,935.11 L1026.09,935.94 L1027.34,936.77 L1028.61,937.58 L1029.88,938.39 L1031.15,939.19 L1032.43,939.98 L1033.71,940.76 L1034.99,941.54 L1036.28,942.31 L1037.57,943.07 L1038.87,943.82 L1040.17,944.56 L1041.47,945.30 L1042.78,946.02 L1044.09,946.74 L1045.40,947.45 L1046.72,948.15 L1048.04,948.85 L1049.36,949.53 L1050.69,950.21 L1052.01,950.88 L1053.35,951.54 L1054.68,952.19 L1056.02,952.83" fill="none" stroke="#1f77b4" stroke-opacity="0.8" stroke-width="4.17" stroke-linejoin="round" stroke-linecap="butt" stroke-dasharray="15.42 6.67" stroke-dashoffset="6.04"/>
</g>
<rect x="108.5" y="779.3" width="206.6" height="158.3" rx="4.2" ry="4.2" fill="#fff" fill-opacity="0.8" stroke="#cccccc" stroke-width="1.67"/>
<path d="M116,795.8 L158,795.8" stroke="#1f77b4" stroke-width="4.17" stroke-linecap="square" fill="none"/>
<path d="M116,826.8 L158,826.8" stroke="#ff7f0e" stroke-width="4.17" stroke-linecap="square" fill="none"/>
<path d="M116,856.8 L158,856.8" stroke="#d62728" stroke-width="4.17" stroke-linecap="square" fill="none"/>
<path d="M116,887.5 L158,887.5" stroke="#000" stroke-width="4.17" stroke-linecap="square" fill="none"/>
<path d="M116,917.9 L158,917.9" stroke="#000" stroke-width="4.17" stroke-dasharray="15.42 6.67" fill="none"/>
<rect x="97.0" y="49.1" width="1359.0" height="898.6" fill="none" stroke="#000" stroke-width="1.67" stroke-linejoin="miter"/>
<line x1="97.00" y1="947.7" x2="97.00" y2="955.00" stroke="#000" stroke-width="1.67"/>
<line x1="368.80" y1="947.7" x2="368.80" y2="955.00" stroke="#000" stroke-width="1.67"/>
<line x1="640.60" y1="947.7" x2="640.60" y2="955.00" stroke="#000" stroke-width="1.67"/>
<line x1="912.40" y1="947.7" x2="912.40" y2="955.00" stroke="#000" stroke-width="1.67"/>
<line x1="1184.20" y1="947.7" x2="1184.20" y2="955.00" stroke="#000" stroke-width="1.67"/>
<line x1="1456.00" y1="947.7" x2="1456.00" y2="955.00" stroke="#000" stroke-width="1.67"/>
<line x1="97.0" y1="897.78" x2="89.70" y2="897.78" stroke="#000" stroke-width="1.67"/>
<line x1="97.0" y1="797.93" x2="89.70" y2="797.93" stroke="#000" stroke-width="1.67"/>
<line x1="97.0" y1="698.09" x2="89.70" y2="698.09" stroke="#000" stroke-width="1.67"/>
<line x1="97.0" y1="598.24" x2="89.70" y2="598.24" stroke="#000" stroke-width="1.67"/>
<line x1="97.0" y1="498.40" x2="89.70" y2="498.40" stroke="#000" stroke-width="1.67"/>
<line x1="97.0" y1="398.56" x2="89.70" y2="398.56" stroke="#000" stroke-width="1.67"/>
<line x1="97.0" y1="298.71" x2="89.70" y2="298.71" stroke="#000" stroke-width="1.67"/>
<line x1="97.0" y1="198.87" x2="89.70" y2="198.87" stroke="#000" stroke-width="1.67"/>
<line x1="97.0" y1="99.02" x2="89.70" y2="99.02" stroke="#000" stroke-width="1.67"/>
<text x="352.80" y="37.00" font-size="31" font-weight="bold" textLength="206.97" lengthAdjust="spacingAndGlyphs">Mass-Radius</text>
<text x="569.90" y="37.00" font-size="31" font-weight="bold" textLength="112.56" lengthAdjust="spacingAndGlyphs">Curves</text>
<text x="692.80" y="37.00" font-size="31" font-weight="bold" textLength="98.76" lengthAdjust="spacingAndGlyphs">(Color</text>
<text x="803.20" y="37.00" font-size="31" font-weight="bold" textLength="21.91" lengthAdjust="spacingAndGlyphs">=</text>
<text x="837.10" y="37.00" font-size="31" font-weight="bold" textLength="108.86" lengthAdjust="spacingAndGlyphs">Phase,</text>
<text x="956.70" y="37.00" font-size="31" font-weight="bold" textLength="83.48" lengthAdjust="spacingAndGlyphs">Style</text>
<text x="1052.40" y="37.00" font-size="31" font-weight="bold" textLength="20.76" lengthAdjust="spacingAndGlyphs">=</text>
<text x="1086.10" y="37.00" font-size="31" font-weight="bold" textLength="113.46" lengthAdjust="spacingAndGlyphs">Series)</text>
<text x="84.00" y="978.80" font-size="22" textLength="24.30" lengthAdjust="spacingAndGlyphs">10</text>
<text x="356.20" y="978.80" font-size="22" textLength="24.25" lengthAdjust="spacingAndGlyphs">11</text>
<text x="628.40" y="978.80" font-size="22" textLength="24.35" lengthAdjust="spacingAndGlyphs">12</text>
<text x="899.60" y="978.80" font-size="22" textLength="24.25" lengthAdjust="spacingAndGlyphs">13</text>
<text x="1171.80" y="978.80" font-size="22" textLength="24.25" lengthAdjust="spacingAndGlyphs">14</text>
<text x="1443.00" y="978.80" font-size="22" textLength="24.30" lengthAdjust="spacingAndGlyphs">15</text>
<text x="50.00" y="906.38" font-size="22" textLength="31.79" lengthAdjust="spacingAndGlyphs">0.6</text>
<text x="50.00" y="806.53" font-size="22" textLength="31.79" lengthAdjust="spacingAndGlyphs">0.8</text>
<text x="50.10" y="706.69" font-size="22" textLength="31.52" lengthAdjust="spacingAndGlyphs">1.0</text>
<text x="50.10" y="606.84" font-size="22" textLength="31.52" lengthAdjust="spacingAndGlyphs">1.2</text>
<text x="50.10" y="507.00" font-size="22" textLength="31.52" lengthAdjust="spacingAndGlyphs">1.4</text>
<text x="50.10" y="407.16" font-size="22" textLength="31.52" lengthAdjust="spacingAndGlyphs">1.6</text>
<text x="50.10" y="307.31" font-size="22" textLength="31.52" lengthAdjust="spacingAndGlyphs">1.8</text>
<text x="50.10" y="207.47" font-size="22" textLength="30.79" lengthAdjust="spacingAndGlyphs">2.0</text>
<text x="50.10" y="107.62" font-size="22" textLength="30.90" lengthAdjust="spacingAndGlyphs">2.2</text>
<text x="173.50" y="803.90" font-size="21.9" textLength="93.40" lengthAdjust="spacingAndGlyphs">Hadronic</text>
<text x="174.50" y="834.40" font-size="21.9" textLength="41.16" lengthAdjust="spacingAndGlyphs">2SC</text>
<text x="174.50" y="864.10" font-size="21.9" textLength="36.54" lengthAdjust="spacingAndGlyphs">CFL</text>
<text x="174.50" y="894.70" font-size="21.9" textLength="110.56" lengthAdjust="spacingAndGlyphs">CSC series</text>
<text x="173.50" y="925.20" font-size="21.9" textLength="132.96" lengthAdjust="spacingAndGlyphs">RGNJL series</text>
<text x="693.60" y="1012.30" font-size="29.2" textLength="165.07" lengthAdjust="spacingAndGlyphs">Radius [km]</text>
<text transform="translate(34.00,572.20) rotate(-90)" x="0" y="0" font-size="28.6" textLength="67.47" lengthAdjust="spacingAndGlyphs">Mass</text>
<text transform="translate(34.00,495.70) rotate(-90)" x="0" y="0" font-size="28.6" textLength="33.76" lengthAdjust="spacingAndGlyphs">[M</text>
<text transform="translate(34.00,435.30) rotate(-90)" x="0" y="0" font-size="28.6" textLength="8.80" lengthAdjust="spacingAndGlyphs">]</text>

<circle cx="24" cy="449.7" r="9.25" stroke="#000" stroke-width="1.35" fill="none"/>
<circle cx="24.2" cy="449.6" r="2.3" fill="#000"/>
</svg>
</body></html>
